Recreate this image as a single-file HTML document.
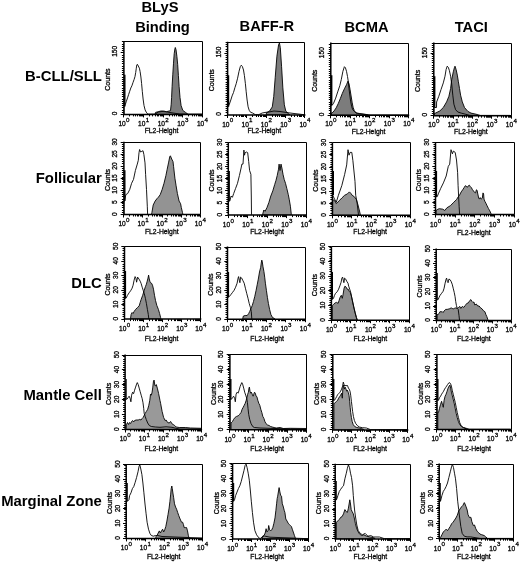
<!DOCTYPE html>
<html><head><meta charset="utf-8"><style>html,body{margin:0;padding:0;background:#fff;}svg{display:block;filter:blur(0.3px);}</style></head><body>
<svg width="520" height="564" viewBox="0 0 520 564">
<rect width="520" height="564" fill="#fff"/>
<text x="160" y="11.9" font-family="'Liberation Sans', Arial, Helvetica, sans-serif" font-weight="bold" font-size="14.7" fill="#000" text-anchor="middle">BLyS</text>
<text x="162.5" y="31.5" font-family="'Liberation Sans', Arial, Helvetica, sans-serif" font-weight="bold" font-size="14.7" fill="#000" text-anchor="middle">Binding</text>
<text x="266.9" y="31.1" font-family="'Liberation Sans', Arial, Helvetica, sans-serif" font-weight="bold" font-size="14.7" fill="#000" text-anchor="middle">BAFF-R</text>
<text x="366.5" y="31.7" font-family="'Liberation Sans', Arial, Helvetica, sans-serif" font-weight="bold" font-size="14.7" fill="#000" text-anchor="middle">BCMA</text>
<text x="471.3" y="31.7" font-family="'Liberation Sans', Arial, Helvetica, sans-serif" font-weight="bold" font-size="14.7" fill="#000" text-anchor="middle">TACI</text>
<text x="101.8" y="81.1" font-family="'Liberation Sans', Arial, Helvetica, sans-serif" font-weight="bold" font-size="14.85" fill="#000" text-anchor="end">B-CLL/SLL</text>
<text x="101.8" y="183.4" font-family="'Liberation Sans', Arial, Helvetica, sans-serif" font-weight="bold" font-size="14.85" fill="#000" text-anchor="end">Follicular</text>
<text x="101.8" y="288.3" font-family="'Liberation Sans', Arial, Helvetica, sans-serif" font-weight="bold" font-size="14.85" fill="#000" text-anchor="end">DLC</text>
<text x="101.8" y="400.3" font-family="'Liberation Sans', Arial, Helvetica, sans-serif" font-weight="bold" font-size="14.85" fill="#000" text-anchor="end">Mantle Cell</text>
<text x="101.8" y="505.7" font-family="'Liberation Sans', Arial, Helvetica, sans-serif" font-weight="bold" font-size="14.85" fill="#000" text-anchor="end">Marginal Zone</text>
<clipPath id="c00"><rect x="123.9" y="41.6" width="78.5" height="72.8"/></clipPath>
<g clip-path="url(#c00)">
<path d="M155 114.4 L155 114.4 L155.5 112.4 L158.2 111.7 L160.9 111 L163.7 111 L166.4 111.7 L169.1 111 L170.5 110.6 L171.2 104.2 L171.6 97.4 L172.1 86.4 L172.8 74.2 L173.5 63.2 L174.2 53.7 L174.9 48.9 L175.3 47.5 L176 49.6 L176.9 56.4 L177.7 64.6 L178.4 75.5 L179.1 86.4 L180 97.4 L181.1 105.6 L182.8 110.4 L185.5 112.4 L187 113.5 L188 114.4 L188 114.4 Z" fill="#7c7c7c" stroke="#000" stroke-width="0.9" stroke-linejoin="round"/>
<path d="M123.9 114.4 L123.9 106.6 L124.2 106.6 L124.2 106.6 L125.3 104.5 L126.4 101.2 L127.5 97.9 L128.6 94.6 L129.7 91.3 L130.8 88 L131.9 85.8 L133 82.5 L134.1 79.5 L135 76.5 L135.7 72.5 L136.3 68.2 L136.8 64.9 L137.4 64.3 L138.3 66 L139.4 68.2 L140.1 71.5 L140.9 77 L141.6 83.6 L142.3 91.3 L143.1 99 L144 105.5 L145.1 109.9 L146.2 112.1 L147.8 114.1 L150.6 114.1 L155 114.1 L158.3 112.1 L162 111.6 L166 111.8 L170 112.5 L180 114.1 L202 114.1" fill="none" stroke="#000" stroke-width="0.9" stroke-linejoin="round"/>
<path d="M124.8 74.8 V106.6" stroke="#000" stroke-width="1.4"/>
</g>
<path d="M123.9 41.5 H202.5 V114.4" fill="none" stroke="#000" stroke-width="1.0"/>
<path d="M123.9 41.1 V114.4 H202.9" fill="none" stroke="#000" stroke-width="1.5"/>
<path d="M123.5 114.4 V117.4 M129.5 114.4 V116.4 M133.5 114.4 V116.4 M135.5 114.4 V116.4 M137.5 114.4 V116.4 M139.5 114.4 V116.4 M140.5 114.4 V116.4 M141.5 114.4 V116.4 M142.5 114.4 V116.4 M143.5 114.4 V117.4 M149.5 114.4 V116.4 M152.5 114.4 V116.4 M155.5 114.4 V116.4 M157.5 114.4 V116.4 M158.5 114.4 V116.4 M160.5 114.4 V116.4 M161.5 114.4 V116.4 M162.5 114.4 V116.4 M163.5 114.4 V117.4 M169.5 114.4 V116.4 M172.5 114.4 V116.4 M174.5 114.4 V116.4 M176.5 114.4 V116.4 M178.5 114.4 V116.4 M179.5 114.4 V116.4 M180.5 114.4 V116.4 M181.5 114.4 V116.4 M182.5 114.4 V117.4 M188.5 114.4 V116.4 M192.5 114.4 V116.4 M194.5 114.4 V116.4 M196.5 114.4 V116.4 M198.5 114.4 V116.4 M199.5 114.4 V116.4 M200.5 114.4 V116.4 M201.5 114.4 V116.4 M202.5 114.4 V117.4 M123.9 114.5 H121.9 M123.9 112.5 H121.9 M123.9 110.5 H121.9 M123.9 107.5 H121.9 M123.9 105.5 H121.9 M123.9 103.5 H121.9 M123.9 101.5 H121.9 M123.9 99.5 H121.9 M123.9 96.5 H121.9 M123.9 94.5 H121.9 M123.9 92.5 H121.9 M123.9 90.5 H121.9 M123.9 88.5 H121.9 M123.9 85.5 H121.9 M123.9 83.5 H121.9 M123.9 81.5 H121.9 M123.9 79.5 H121.9 M123.9 77.5 H121.9 M123.9 74.5 H121.9 M123.9 72.5 H121.9 M123.9 70.5 H121.9 M123.9 68.5 H121.9 M123.9 66.5 H121.9 M123.9 63.5 H121.9 M123.9 61.5 H121.9 M123.9 59.5 H121.9 M123.9 57.5 H121.9 M123.9 55.5 H121.9 M123.9 52.5 H121.9 M123.9 50.5 H121.9 M123.9 48.5 H121.9 M123.9 46.5 H121.9 M123.9 44.5 H121.9 M123.9 41.5 H121.9 M123.9 114.5 H120.7 M123.9 52.5 H120.7" stroke="#000" stroke-width="1" fill="none"/>
<text transform="translate(117.3 113.4) rotate(-90) scale(1 1.15)" font-size="6.6" text-anchor="middle" font-family="'Liberation Sans', Arial, Helvetica, sans-serif" fill="#000" stroke="#000" stroke-width="0.28">0</text>
<text transform="translate(117.3 51.35) rotate(-90) scale(1 1.15)" font-size="6.6" text-anchor="middle" font-family="'Liberation Sans', Arial, Helvetica, sans-serif" fill="#000" stroke="#000" stroke-width="0.28">150</text>
<text transform="translate(109.8 79.6) rotate(-90)" font-size="7.0" text-anchor="middle" font-family="'Liberation Sans', Arial, Helvetica, sans-serif" fill="#000" stroke="#000" stroke-width="0.28">Counts</text>
<text x="125.8" y="126.4" font-size="6.6" text-anchor="end" font-family="'Liberation Sans', Arial, Helvetica, sans-serif" fill="#000" stroke="#000" stroke-width="0.28">10</text>
<text x="126.1" y="122.3" font-size="6.2" font-family="'Liberation Sans', Arial, Helvetica, sans-serif" fill="#000" stroke="#000" stroke-width="0.28">0</text>
<text x="145.43" y="126.4" font-size="6.6" text-anchor="end" font-family="'Liberation Sans', Arial, Helvetica, sans-serif" fill="#000" stroke="#000" stroke-width="0.28">10</text>
<text x="145.72" y="122.3" font-size="6.2" font-family="'Liberation Sans', Arial, Helvetica, sans-serif" fill="#000" stroke="#000" stroke-width="0.28">1</text>
<text x="165.05" y="126.4" font-size="6.6" text-anchor="end" font-family="'Liberation Sans', Arial, Helvetica, sans-serif" fill="#000" stroke="#000" stroke-width="0.28">10</text>
<text x="165.35" y="122.3" font-size="6.2" font-family="'Liberation Sans', Arial, Helvetica, sans-serif" fill="#000" stroke="#000" stroke-width="0.28">2</text>
<text x="184.68" y="126.4" font-size="6.6" text-anchor="end" font-family="'Liberation Sans', Arial, Helvetica, sans-serif" fill="#000" stroke="#000" stroke-width="0.28">10</text>
<text x="184.97" y="122.3" font-size="6.2" font-family="'Liberation Sans', Arial, Helvetica, sans-serif" fill="#000" stroke="#000" stroke-width="0.28">3</text>
<text x="204.3" y="126.4" font-size="6.6" text-anchor="end" font-family="'Liberation Sans', Arial, Helvetica, sans-serif" fill="#000" stroke="#000" stroke-width="0.28">10</text>
<text x="204.6" y="122.3" font-size="6.2" font-family="'Liberation Sans', Arial, Helvetica, sans-serif" fill="#000" stroke="#000" stroke-width="0.28">4</text>
<text x="161.5" y="133" font-size="6.8" text-anchor="middle" font-family="'Liberation Sans', Arial, Helvetica, sans-serif" fill="#000" stroke="#000" stroke-width="0.28">FL2-Height</text>
<clipPath id="c01"><rect x="227.6" y="42.3" width="77.3" height="72.7"/></clipPath>
<g clip-path="url(#c01)">
<path d="M266.35 115 L266.35 114.33 L266.35 112.85 L269.52 111.15 L272.27 106.92 L273.75 96.35 L275.23 77.31 L276.92 56.15 L278.62 44.52 L279.46 43.04 L280.31 47.69 L281.58 66.73 L282.85 87.88 L284.33 104.81 L285.81 111.15 L288.56 113.69 L289.62 114.33 L289.62 115 Z" fill="#7c7c7c" stroke="#000" stroke-width="0.9" stroke-linejoin="round"/>
<path d="M227.6 115 L227.6 106.8 L228 106.8 L228 106.8 L229.4 104.1 L230.8 100 L232.1 95.9 L233.5 92.5 L234.9 87.7 L236.2 83.7 L237.6 78.2 L239 71.4 L240.3 66.6 L241.3 65.2 L242.4 66.6 L243.5 70 L244.4 75.5 L245.4 83.7 L246.2 91.8 L247.1 100 L248.1 106.8 L249.2 110.3 L250.6 112.3 L252.6 113 L255.3 114.7 L258.7 114.7 L262.2 113 L266 112.3 L270 111.8 L274 111 L280 111.5 L290 113 L304 114.7" fill="none" stroke="#000" stroke-width="0.9" stroke-linejoin="round"/>
<path d="M228.5 75.3 V106.8" stroke="#000" stroke-width="1.4"/>
</g>
<path d="M227.6 42.5 H304.5 V115" fill="none" stroke="#000" stroke-width="1.0"/>
<path d="M227.6 41.8 V115 H305.4" fill="none" stroke="#000" stroke-width="1.5"/>
<path d="M227.5 115 V118 M233.5 115 V117 M236.5 115 V117 M239.5 115 V117 M241.5 115 V117 M242.5 115 V117 M243.5 115 V117 M245.5 115 V117 M246.5 115 V117 M246.5 115 V118 M252.5 115 V117 M256.5 115 V117 M258.5 115 V117 M260.5 115 V117 M261.5 115 V117 M263.5 115 V117 M264.5 115 V117 M265.5 115 V117 M266.5 115 V118 M272.5 115 V117 M275.5 115 V117 M277.5 115 V117 M279.5 115 V117 M281.5 115 V117 M282.5 115 V117 M283.5 115 V117 M284.5 115 V117 M285.5 115 V118 M291.5 115 V117 M294.5 115 V117 M297.5 115 V117 M299.5 115 V117 M300.5 115 V117 M301.5 115 V117 M303.5 115 V117 M304.5 115 V117 M304.5 115 V118 M227.6 115.5 H225.6 M227.6 112.5 H225.6 M227.6 110.5 H225.6 M227.6 108.5 H225.6 M227.6 106.5 H225.6 M227.6 104.5 H225.6 M227.6 101.5 H225.6 M227.6 99.5 H225.6 M227.6 97.5 H225.6 M227.6 95.5 H225.6 M227.6 93.5 H225.6 M227.6 90.5 H225.6 M227.6 88.5 H225.6 M227.6 86.5 H225.6 M227.6 84.5 H225.6 M227.6 82.5 H225.6 M227.6 79.5 H225.6 M227.6 77.5 H225.6 M227.6 75.5 H225.6 M227.6 73.5 H225.6 M227.6 71.5 H225.6 M227.6 68.5 H225.6 M227.6 66.5 H225.6 M227.6 64.5 H225.6 M227.6 62.5 H225.6 M227.6 59.5 H225.6 M227.6 57.5 H225.6 M227.6 55.5 H225.6 M227.6 53.5 H225.6 M227.6 51.5 H225.6 M227.6 49.5 H225.6 M227.6 46.5 H225.6 M227.6 44.5 H225.6 M227.6 42.5 H225.6 M227.6 115.5 H224.4 M227.6 53.5 H224.4" stroke="#000" stroke-width="1" fill="none"/>
<text transform="translate(221 114) rotate(-90) scale(1 1.15)" font-size="6.6" text-anchor="middle" font-family="'Liberation Sans', Arial, Helvetica, sans-serif" fill="#000" stroke="#000" stroke-width="0.28">0</text>
<text transform="translate(221 52.04) rotate(-90) scale(1 1.15)" font-size="6.6" text-anchor="middle" font-family="'Liberation Sans', Arial, Helvetica, sans-serif" fill="#000" stroke="#000" stroke-width="0.28">150</text>
<text transform="translate(213.5 80.25) rotate(-90)" font-size="7.0" text-anchor="middle" font-family="'Liberation Sans', Arial, Helvetica, sans-serif" fill="#000" stroke="#000" stroke-width="0.28">Counts</text>
<text x="229.5" y="126.5" font-size="6.6" text-anchor="end" font-family="'Liberation Sans', Arial, Helvetica, sans-serif" fill="#000" stroke="#000" stroke-width="0.28">10</text>
<text x="229.8" y="122.4" font-size="6.2" font-family="'Liberation Sans', Arial, Helvetica, sans-serif" fill="#000" stroke="#000" stroke-width="0.28">0</text>
<text x="248.82" y="126.5" font-size="6.6" text-anchor="end" font-family="'Liberation Sans', Arial, Helvetica, sans-serif" fill="#000" stroke="#000" stroke-width="0.28">10</text>
<text x="249.12" y="122.4" font-size="6.2" font-family="'Liberation Sans', Arial, Helvetica, sans-serif" fill="#000" stroke="#000" stroke-width="0.28">1</text>
<text x="268.15" y="126.5" font-size="6.6" text-anchor="end" font-family="'Liberation Sans', Arial, Helvetica, sans-serif" fill="#000" stroke="#000" stroke-width="0.28">10</text>
<text x="268.45" y="122.4" font-size="6.2" font-family="'Liberation Sans', Arial, Helvetica, sans-serif" fill="#000" stroke="#000" stroke-width="0.28">2</text>
<text x="287.47" y="126.5" font-size="6.6" text-anchor="end" font-family="'Liberation Sans', Arial, Helvetica, sans-serif" fill="#000" stroke="#000" stroke-width="0.28">10</text>
<text x="287.77" y="122.4" font-size="6.2" font-family="'Liberation Sans', Arial, Helvetica, sans-serif" fill="#000" stroke="#000" stroke-width="0.28">3</text>
<text x="306.8" y="126.5" font-size="6.6" text-anchor="end" font-family="'Liberation Sans', Arial, Helvetica, sans-serif" fill="#000" stroke="#000" stroke-width="0.28">10</text>
<text x="307.1" y="122.4" font-size="6.2" font-family="'Liberation Sans', Arial, Helvetica, sans-serif" fill="#000" stroke="#000" stroke-width="0.28">4</text>
<text x="264.25" y="132.9" font-size="6.8" text-anchor="middle" font-family="'Liberation Sans', Arial, Helvetica, sans-serif" fill="#000" stroke="#000" stroke-width="0.28">FL2-Height</text>
<clipPath id="c02"><rect x="330.8" y="43" width="77.9" height="72.3"/></clipPath>
<g clip-path="url(#c02)">
<path d="M331.3 115.3 L331.3 115.3 L331.3 113.2 L332.1 113 L334.1 110.9 L336.2 107.8 L338.2 103.7 L340.3 98.6 L342.3 93.4 L344.4 88.8 L346.5 84.7 L348 81.1 L349 83.7 L350.1 89.8 L351.1 96 L352.1 102.2 L353.1 107.3 L354.2 110.4 L355.7 112.5 L357.8 113.5 L360.9 114 L366 114.6 L368 115.3 L368 115.3 Z" fill="#7c7c7c" stroke="#000" stroke-width="0.9" stroke-linejoin="round"/>
<path d="M330.8 115.3 L330.8 105.3 L331.3 105.3 L332.1 105.3 L333.6 103.2 L335.7 98.1 L337.7 91.9 L339.8 85.7 L341.3 79.5 L342.9 71.3 L344.4 66.7 L345.4 67.7 L346.5 71.3 L347.5 76.5 L348.3 81.6 L349 88.8 L349.8 95 L350.6 101.2 L351.6 106.3 L352.6 109.4 L354.2 111.4 L356.2 113 L359.8 113.5 L370 115 L408 115" fill="none" stroke="#000" stroke-width="0.9" stroke-linejoin="round"/>
<path d="M331.7 75.2 V105.3" stroke="#000" stroke-width="1.4"/>
</g>
<path d="M330.8 43.5 H408.5 V115.3" fill="none" stroke="#000" stroke-width="1.0"/>
<path d="M330.8 42.5 V115.3 H409.2" fill="none" stroke="#000" stroke-width="1.5"/>
<path d="M330.5 115.3 V118.3 M336.5 115.3 V117.3 M340.5 115.3 V117.3 M342.5 115.3 V117.3 M344.5 115.3 V117.3 M345.5 115.3 V117.3 M347.5 115.3 V117.3 M348.5 115.3 V117.3 M349.5 115.3 V117.3 M350.5 115.3 V118.3 M356.5 115.3 V117.3 M359.5 115.3 V117.3 M362.5 115.3 V117.3 M363.5 115.3 V117.3 M365.5 115.3 V117.3 M366.5 115.3 V117.3 M367.5 115.3 V117.3 M368.5 115.3 V117.3 M369.5 115.3 V118.3 M375.5 115.3 V117.3 M379.5 115.3 V117.3 M381.5 115.3 V117.3 M383.5 115.3 V117.3 M384.5 115.3 V117.3 M386.5 115.3 V117.3 M387.5 115.3 V117.3 M388.5 115.3 V117.3 M389.5 115.3 V118.3 M395.5 115.3 V117.3 M398.5 115.3 V117.3 M400.5 115.3 V117.3 M402.5 115.3 V117.3 M404.5 115.3 V117.3 M405.5 115.3 V117.3 M406.5 115.3 V117.3 M407.5 115.3 V117.3 M408.5 115.3 V118.3 M330.8 115.5 H328.8 M330.8 113.5 H328.8 M330.8 110.5 H328.8 M330.8 108.5 H328.8 M330.8 106.5 H328.8 M330.8 104.5 H328.8 M330.8 102.5 H328.8 M330.8 99.5 H328.8 M330.8 97.5 H328.8 M330.8 95.5 H328.8 M330.8 93.5 H328.8 M330.8 91.5 H328.8 M330.8 88.5 H328.8 M330.8 86.5 H328.8 M330.8 84.5 H328.8 M330.8 82.5 H328.8 M330.8 80.5 H328.8 M330.8 77.5 H328.8 M330.8 75.5 H328.8 M330.8 73.5 H328.8 M330.8 71.5 H328.8 M330.8 69.5 H328.8 M330.8 66.5 H328.8 M330.8 64.5 H328.8 M330.8 62.5 H328.8 M330.8 60.5 H328.8 M330.8 58.5 H328.8 M330.8 55.5 H328.8 M330.8 53.5 H328.8 M330.8 51.5 H328.8 M330.8 49.5 H328.8 M330.8 47.5 H328.8 M330.8 44.5 H328.8 M330.8 115.5 H327.6 M330.8 53.5 H327.6" stroke="#000" stroke-width="1" fill="none"/>
<text transform="translate(324.2 114.3) rotate(-90) scale(1 1.15)" font-size="6.6" text-anchor="middle" font-family="'Liberation Sans', Arial, Helvetica, sans-serif" fill="#000" stroke="#000" stroke-width="0.28">0</text>
<text transform="translate(324.2 52.68) rotate(-90) scale(1 1.15)" font-size="6.6" text-anchor="middle" font-family="'Liberation Sans', Arial, Helvetica, sans-serif" fill="#000" stroke="#000" stroke-width="0.28">150</text>
<text transform="translate(316.7 80.75) rotate(-90)" font-size="7.0" text-anchor="middle" font-family="'Liberation Sans', Arial, Helvetica, sans-serif" fill="#000" stroke="#000" stroke-width="0.28">Counts</text>
<text x="332.7" y="126.3" font-size="6.6" text-anchor="end" font-family="'Liberation Sans', Arial, Helvetica, sans-serif" fill="#000" stroke="#000" stroke-width="0.28">10</text>
<text x="333" y="122.2" font-size="6.2" font-family="'Liberation Sans', Arial, Helvetica, sans-serif" fill="#000" stroke="#000" stroke-width="0.28">0</text>
<text x="352.17" y="126.3" font-size="6.6" text-anchor="end" font-family="'Liberation Sans', Arial, Helvetica, sans-serif" fill="#000" stroke="#000" stroke-width="0.28">10</text>
<text x="352.47" y="122.2" font-size="6.2" font-family="'Liberation Sans', Arial, Helvetica, sans-serif" fill="#000" stroke="#000" stroke-width="0.28">1</text>
<text x="371.65" y="126.3" font-size="6.6" text-anchor="end" font-family="'Liberation Sans', Arial, Helvetica, sans-serif" fill="#000" stroke="#000" stroke-width="0.28">10</text>
<text x="371.95" y="122.2" font-size="6.2" font-family="'Liberation Sans', Arial, Helvetica, sans-serif" fill="#000" stroke="#000" stroke-width="0.28">2</text>
<text x="391.12" y="126.3" font-size="6.6" text-anchor="end" font-family="'Liberation Sans', Arial, Helvetica, sans-serif" fill="#000" stroke="#000" stroke-width="0.28">10</text>
<text x="391.43" y="122.2" font-size="6.2" font-family="'Liberation Sans', Arial, Helvetica, sans-serif" fill="#000" stroke="#000" stroke-width="0.28">3</text>
<text x="410.6" y="126.3" font-size="6.6" text-anchor="end" font-family="'Liberation Sans', Arial, Helvetica, sans-serif" fill="#000" stroke="#000" stroke-width="0.28">10</text>
<text x="410.9" y="122.2" font-size="6.2" font-family="'Liberation Sans', Arial, Helvetica, sans-serif" fill="#000" stroke="#000" stroke-width="0.28">4</text>
<text x="368.55" y="133.6" font-size="6.8" text-anchor="middle" font-family="'Liberation Sans', Arial, Helvetica, sans-serif" fill="#000" stroke="#000" stroke-width="0.28">FL2-Height</text>
<clipPath id="c03"><rect x="433.8" y="43" width="77.4" height="72.7"/></clipPath>
<g clip-path="url(#c03)">
<path d="M434.3 115.7 L434.3 115.4 L434.3 113.5 L435.5 113.1 L439.9 110.9 L443.3 107.5 L446.6 101.9 L448.9 96.3 L450.6 88.5 L451.7 79.6 L453.3 71.8 L454.5 67.3 L455 66.2 L456.1 69.5 L457.3 75.1 L458.4 81.8 L459.5 88.5 L460.6 95.2 L462.3 101.9 L464.5 107.5 L467.9 111.4 L471 113.1 L476 114.2 L480 115.4 L480 115.7 Z" fill="#7c7c7c" stroke="#000" stroke-width="0.9" stroke-linejoin="round"/>
<path d="M433.8 115.7 L433.8 107.5 L434.3 107.5 L436.5 107.5 L436.6 102 L438.8 96.3 L441 89.6 L443.3 82.9 L445 76.2 L446.1 69.5 L447.2 66.2 L448.3 67.3 L449.4 70.6 L450.6 76.2 L451.7 84 L452.8 95.2 L453.9 104.2 L455.6 109.7 L457.8 112 L461.2 113.1 L470 115.4 L510 115.4" fill="none" stroke="#000" stroke-width="0.9" stroke-linejoin="round"/>
<path d="M434.7 76.3 V107.5" stroke="#000" stroke-width="1.4"/>
</g>
<path d="M433.8 43.5 H511.5 V115.7" fill="none" stroke="#000" stroke-width="1.0"/>
<path d="M433.8 42.5 V115.7 H511.7" fill="none" stroke="#000" stroke-width="1.5"/>
<path d="M433.5 115.7 V118.7 M439.5 115.7 V117.7 M443.5 115.7 V117.7 M445.5 115.7 V117.7 M447.5 115.7 V117.7 M448.5 115.7 V117.7 M450.5 115.7 V117.7 M451.5 115.7 V117.7 M452.5 115.7 V117.7 M453.5 115.7 V118.7 M458.5 115.7 V117.7 M462.5 115.7 V117.7 M464.5 115.7 V117.7 M466.5 115.7 V117.7 M468.5 115.7 V117.7 M469.5 115.7 V117.7 M470.5 115.7 V117.7 M471.5 115.7 V117.7 M472.5 115.7 V118.7 M478.5 115.7 V117.7 M481.5 115.7 V117.7 M484.5 115.7 V117.7 M486.5 115.7 V117.7 M487.5 115.7 V117.7 M488.5 115.7 V117.7 M489.5 115.7 V117.7 M490.5 115.7 V117.7 M491.5 115.7 V118.7 M497.5 115.7 V117.7 M501.5 115.7 V117.7 M503.5 115.7 V117.7 M505.5 115.7 V117.7 M506.5 115.7 V117.7 M508.5 115.7 V117.7 M509.5 115.7 V117.7 M510.5 115.7 V117.7 M511.5 115.7 V118.7 M433.8 115.5 H431.8 M433.8 113.5 H431.8 M433.8 111.5 H431.8 M433.8 109.5 H431.8 M433.8 106.5 H431.8 M433.8 104.5 H431.8 M433.8 102.5 H431.8 M433.8 100.5 H431.8 M433.8 98.5 H431.8 M433.8 95.5 H431.8 M433.8 93.5 H431.8 M433.8 91.5 H431.8 M433.8 89.5 H431.8 M433.8 87.5 H431.8 M433.8 84.5 H431.8 M433.8 82.5 H431.8 M433.8 80.5 H431.8 M433.8 78.5 H431.8 M433.8 76.5 H431.8 M433.8 73.5 H431.8 M433.8 71.5 H431.8 M433.8 69.5 H431.8 M433.8 67.5 H431.8 M433.8 65.5 H431.8 M433.8 62.5 H431.8 M433.8 60.5 H431.8 M433.8 58.5 H431.8 M433.8 56.5 H431.8 M433.8 54.5 H431.8 M433.8 51.5 H431.8 M433.8 49.5 H431.8 M433.8 47.5 H431.8 M433.8 45.5 H431.8 M433.8 43.5 H431.8 M433.8 115.5 H430.6 M433.8 53.5 H430.6" stroke="#000" stroke-width="1" fill="none"/>
<text transform="translate(427.2 114.7) rotate(-90) scale(1 1.15)" font-size="6.6" text-anchor="middle" font-family="'Liberation Sans', Arial, Helvetica, sans-serif" fill="#000" stroke="#000" stroke-width="0.28">0</text>
<text transform="translate(427.2 52.74) rotate(-90) scale(1 1.15)" font-size="6.6" text-anchor="middle" font-family="'Liberation Sans', Arial, Helvetica, sans-serif" fill="#000" stroke="#000" stroke-width="0.28">150</text>
<text transform="translate(419.7 80.95) rotate(-90)" font-size="7.0" text-anchor="middle" font-family="'Liberation Sans', Arial, Helvetica, sans-serif" fill="#000" stroke="#000" stroke-width="0.28">Counts</text>
<text x="435.7" y="126.6" font-size="6.6" text-anchor="end" font-family="'Liberation Sans', Arial, Helvetica, sans-serif" fill="#000" stroke="#000" stroke-width="0.28">10</text>
<text x="436" y="122.5" font-size="6.2" font-family="'Liberation Sans', Arial, Helvetica, sans-serif" fill="#000" stroke="#000" stroke-width="0.28">0</text>
<text x="455.05" y="126.6" font-size="6.6" text-anchor="end" font-family="'Liberation Sans', Arial, Helvetica, sans-serif" fill="#000" stroke="#000" stroke-width="0.28">10</text>
<text x="455.35" y="122.5" font-size="6.2" font-family="'Liberation Sans', Arial, Helvetica, sans-serif" fill="#000" stroke="#000" stroke-width="0.28">1</text>
<text x="474.4" y="126.6" font-size="6.6" text-anchor="end" font-family="'Liberation Sans', Arial, Helvetica, sans-serif" fill="#000" stroke="#000" stroke-width="0.28">10</text>
<text x="474.7" y="122.5" font-size="6.2" font-family="'Liberation Sans', Arial, Helvetica, sans-serif" fill="#000" stroke="#000" stroke-width="0.28">2</text>
<text x="493.75" y="126.6" font-size="6.6" text-anchor="end" font-family="'Liberation Sans', Arial, Helvetica, sans-serif" fill="#000" stroke="#000" stroke-width="0.28">10</text>
<text x="494.05" y="122.5" font-size="6.2" font-family="'Liberation Sans', Arial, Helvetica, sans-serif" fill="#000" stroke="#000" stroke-width="0.28">3</text>
<text x="513.1" y="126.6" font-size="6.6" text-anchor="end" font-family="'Liberation Sans', Arial, Helvetica, sans-serif" fill="#000" stroke="#000" stroke-width="0.28">10</text>
<text x="513.4" y="122.5" font-size="6.2" font-family="'Liberation Sans', Arial, Helvetica, sans-serif" fill="#000" stroke="#000" stroke-width="0.28">4</text>
<text x="470.8" y="133.6" font-size="6.8" text-anchor="middle" font-family="'Liberation Sans', Arial, Helvetica, sans-serif" fill="#000" stroke="#000" stroke-width="0.28">FL2-Height</text>
<clipPath id="c10"><rect x="123.9" y="142.3" width="76.3" height="72.2"/></clipPath>
<g clip-path="url(#c10)">
<path d="M151.6 214.5 L151.6 214.2 L151.9 212.6 L153.2 205 L155.1 201.1 L157 198.6 L158.3 197.3 L160.2 194.7 L162.1 189.6 L164 183.3 L165.9 175.6 L167.2 169.2 L168.5 162.9 L169.8 156.5 L170.4 155.8 L171.7 159 L173 161.6 L173.6 166.7 L174.9 178.2 L176.1 185.8 L177.4 193.5 L179.1 201.1 L180.6 203.7 L181.3 207.5 L182.5 212.6 L182.8 214.2 L182.8 214.5 Z" fill="#939393" stroke="#000" stroke-width="0.9" stroke-linejoin="round"/>
<path d="M123.9 214.5 L123.9 201.1 L124.4 201.1 L124.6 201.1 L125.8 194.7 L127.7 193.5 L129.7 189.6 L131.6 183.3 L133.5 179.4 L135.4 170.5 L137.3 164.1 L138.3 160.3 L139 152.7 L139.6 149.5 L140.5 152 L141.8 151.4 L143 150.7 L143.9 154.6 L145 162.9 L145.6 174.3 L146.5 189.6 L147.3 206.2 L147.6 214.2" fill="none" stroke="#000" stroke-width="0.9" stroke-linejoin="round"/>
<path d="M124.8 170.3 V201.1" stroke="#000" stroke-width="1.4"/>
</g>
<path d="M123.9 142.5 H200.5 V214.5" fill="none" stroke="#000" stroke-width="1.0"/>
<path d="M123.9 141.8 V214.5 H200.7" fill="none" stroke="#000" stroke-width="1.5"/>
<path d="M123.5 214.5 V217.5 M129.5 214.5 V216.5 M133.5 214.5 V216.5 M135.5 214.5 V216.5 M137.5 214.5 V216.5 M138.5 214.5 V216.5 M140.5 214.5 V216.5 M141.5 214.5 V216.5 M142.5 214.5 V216.5 M142.5 214.5 V217.5 M148.5 214.5 V216.5 M152.5 214.5 V216.5 M154.5 214.5 V216.5 M156.5 214.5 V216.5 M157.5 214.5 V216.5 M159.5 214.5 V216.5 M160.5 214.5 V216.5 M161.5 214.5 V216.5 M162.5 214.5 V217.5 M167.5 214.5 V216.5 M171.5 214.5 V216.5 M173.5 214.5 V216.5 M175.5 214.5 V216.5 M176.5 214.5 V216.5 M178.5 214.5 V216.5 M179.5 214.5 V216.5 M180.5 214.5 V216.5 M181.5 214.5 V217.5 M186.5 214.5 V216.5 M190.5 214.5 V216.5 M192.5 214.5 V216.5 M194.5 214.5 V216.5 M195.5 214.5 V216.5 M197.5 214.5 V216.5 M198.5 214.5 V216.5 M199.5 214.5 V216.5 M200.5 214.5 V217.5 M123.9 214.5 H121.9 M123.9 212.5 H121.9 M123.9 210.5 H121.9 M123.9 207.5 H121.9 M123.9 205.5 H121.9 M123.9 203.5 H121.9 M123.9 201.5 H121.9 M123.9 199.5 H121.9 M123.9 196.5 H121.9 M123.9 194.5 H121.9 M123.9 192.5 H121.9 M123.9 190.5 H121.9 M123.9 188.5 H121.9 M123.9 185.5 H121.9 M123.9 183.5 H121.9 M123.9 181.5 H121.9 M123.9 179.5 H121.9 M123.9 177.5 H121.9 M123.9 174.5 H121.9 M123.9 172.5 H121.9 M123.9 170.5 H121.9 M123.9 168.5 H121.9 M123.9 166.5 H121.9 M123.9 163.5 H121.9 M123.9 161.5 H121.9 M123.9 159.5 H121.9 M123.9 157.5 H121.9 M123.9 155.5 H121.9 M123.9 152.5 H121.9 M123.9 150.5 H121.9 M123.9 148.5 H121.9 M123.9 146.5 H121.9 M123.9 144.5 H121.9 M123.9 214.5 H120.7 M123.9 202.5 H120.7 M123.9 190.5 H120.7 M123.9 178.5 H120.7 M123.9 166.5 H120.7 M123.9 154.5 H120.7 M123.9 142.5 H120.7" stroke="#000" stroke-width="1" fill="none"/>
<text transform="translate(117.3 214.1) rotate(-90) scale(1 1.15)" font-size="6.6" text-anchor="middle" font-family="'Liberation Sans', Arial, Helvetica, sans-serif" fill="#000" stroke="#000" stroke-width="0.28">0</text>
<text transform="translate(117.3 202.07) rotate(-90) scale(1 1.15)" font-size="6.6" text-anchor="middle" font-family="'Liberation Sans', Arial, Helvetica, sans-serif" fill="#000" stroke="#000" stroke-width="0.28">5</text>
<text transform="translate(117.3 190.03) rotate(-90) scale(1 1.15)" font-size="6.6" text-anchor="middle" font-family="'Liberation Sans', Arial, Helvetica, sans-serif" fill="#000" stroke="#000" stroke-width="0.28">10</text>
<text transform="translate(117.3 178) rotate(-90) scale(1 1.15)" font-size="6.6" text-anchor="middle" font-family="'Liberation Sans', Arial, Helvetica, sans-serif" fill="#000" stroke="#000" stroke-width="0.28">15</text>
<text transform="translate(117.3 165.97) rotate(-90) scale(1 1.15)" font-size="6.6" text-anchor="middle" font-family="'Liberation Sans', Arial, Helvetica, sans-serif" fill="#000" stroke="#000" stroke-width="0.28">20</text>
<text transform="translate(117.3 153.93) rotate(-90) scale(1 1.15)" font-size="6.6" text-anchor="middle" font-family="'Liberation Sans', Arial, Helvetica, sans-serif" fill="#000" stroke="#000" stroke-width="0.28">25</text>
<text transform="translate(117.3 141.9) rotate(-90) scale(1 1.15)" font-size="6.6" text-anchor="middle" font-family="'Liberation Sans', Arial, Helvetica, sans-serif" fill="#000" stroke="#000" stroke-width="0.28">30</text>
<text transform="translate(109.8 180) rotate(-90)" font-size="7.0" text-anchor="middle" font-family="'Liberation Sans', Arial, Helvetica, sans-serif" fill="#000" stroke="#000" stroke-width="0.28">Counts</text>
<text x="125.8" y="226.2" font-size="6.6" text-anchor="end" font-family="'Liberation Sans', Arial, Helvetica, sans-serif" fill="#000" stroke="#000" stroke-width="0.28">10</text>
<text x="126.1" y="222.1" font-size="6.2" font-family="'Liberation Sans', Arial, Helvetica, sans-serif" fill="#000" stroke="#000" stroke-width="0.28">0</text>
<text x="144.88" y="226.2" font-size="6.6" text-anchor="end" font-family="'Liberation Sans', Arial, Helvetica, sans-serif" fill="#000" stroke="#000" stroke-width="0.28">10</text>
<text x="145.17" y="222.1" font-size="6.2" font-family="'Liberation Sans', Arial, Helvetica, sans-serif" fill="#000" stroke="#000" stroke-width="0.28">1</text>
<text x="163.95" y="226.2" font-size="6.6" text-anchor="end" font-family="'Liberation Sans', Arial, Helvetica, sans-serif" fill="#000" stroke="#000" stroke-width="0.28">10</text>
<text x="164.25" y="222.1" font-size="6.2" font-family="'Liberation Sans', Arial, Helvetica, sans-serif" fill="#000" stroke="#000" stroke-width="0.28">2</text>
<text x="183.03" y="226.2" font-size="6.6" text-anchor="end" font-family="'Liberation Sans', Arial, Helvetica, sans-serif" fill="#000" stroke="#000" stroke-width="0.28">10</text>
<text x="183.32" y="222.1" font-size="6.2" font-family="'Liberation Sans', Arial, Helvetica, sans-serif" fill="#000" stroke="#000" stroke-width="0.28">3</text>
<text x="202.1" y="226.2" font-size="6.6" text-anchor="end" font-family="'Liberation Sans', Arial, Helvetica, sans-serif" fill="#000" stroke="#000" stroke-width="0.28">10</text>
<text x="202.4" y="222.1" font-size="6.2" font-family="'Liberation Sans', Arial, Helvetica, sans-serif" fill="#000" stroke="#000" stroke-width="0.28">4</text>
<text x="161.75" y="234.1" font-size="6.8" text-anchor="middle" font-family="'Liberation Sans', Arial, Helvetica, sans-serif" fill="#000" stroke="#000" stroke-width="0.28">FL2-Height</text>
<clipPath id="c11"><rect x="228.3" y="142.7" width="77.9" height="72.4"/></clipPath>
<g clip-path="url(#c11)">
<path d="M262.4 215.1 L262.4 215.4 L262.6 214.5 L263.8 210 L265.1 211.3 L267 207.5 L268.9 202.4 L270.8 196 L272.8 190.9 L274.7 184.5 L275.9 180.7 L277.2 175.6 L278.5 169.2 L279.1 164.1 L280 170.5 L281 164.1 L281.9 168 L283 174.3 L284.2 179.4 L285.5 183.3 L286.8 188.4 L288.3 194.7 L289.3 199.8 L290.4 206.2 L291.3 214.5 L291.4 215.4 L291.4 215.1 Z" fill="#939393" stroke="#000" stroke-width="0.9" stroke-linejoin="round"/>
<path d="M228.3 215.1 L228.3 201.1 L229 201.1 L229.8 201.1 L231.1 196 L232.4 197.3 L233.7 193.5 L235.6 188.4 L237.5 183.3 L239.4 175.6 L241.1 168 L241.9 164.1 L243 164.1 L243.9 150.1 L244.5 155.2 L245.1 152.7 L246.4 152 L247.7 152.7 L248.7 161.6 L249.6 170.5 L250.9 174.3 L251.3 196 L251.5 214.8" fill="none" stroke="#000" stroke-width="0.9" stroke-linejoin="round"/>
<path d="M229.2 171 V201.1" stroke="#000" stroke-width="1.4"/>
</g>
<path d="M228.3 142.5 H306.5 V215.1" fill="none" stroke="#000" stroke-width="1.0"/>
<path d="M228.3 142.2 V215.1 H306.7" fill="none" stroke="#000" stroke-width="1.5"/>
<path d="M228.5 215.1 V218.1 M234.5 215.1 V217.1 M237.5 215.1 V217.1 M240.5 215.1 V217.1 M241.5 215.1 V217.1 M243.5 215.1 V217.1 M244.5 215.1 V217.1 M245.5 215.1 V217.1 M246.5 215.1 V217.1 M247.5 215.1 V218.1 M253.5 215.1 V217.1 M257.5 215.1 V217.1 M259.5 215.1 V217.1 M261.5 215.1 V217.1 M262.5 215.1 V217.1 M264.5 215.1 V217.1 M265.5 215.1 V217.1 M266.5 215.1 V217.1 M267.5 215.1 V218.1 M273.5 215.1 V217.1 M276.5 215.1 V217.1 M278.5 215.1 V217.1 M280.5 215.1 V217.1 M282.5 215.1 V217.1 M283.5 215.1 V217.1 M284.5 215.1 V217.1 M285.5 215.1 V217.1 M286.5 215.1 V218.1 M292.5 215.1 V217.1 M296.5 215.1 V217.1 M298.5 215.1 V217.1 M300.5 215.1 V217.1 M301.5 215.1 V217.1 M303.5 215.1 V217.1 M304.5 215.1 V217.1 M305.5 215.1 V217.1 M306.5 215.1 V218.1 M228.3 215.5 H226.3 M228.3 212.5 H226.3 M228.3 210.5 H226.3 M228.3 208.5 H226.3 M228.3 206.5 H226.3 M228.3 204.5 H226.3 M228.3 201.5 H226.3 M228.3 199.5 H226.3 M228.3 197.5 H226.3 M228.3 195.5 H226.3 M228.3 193.5 H226.3 M228.3 190.5 H226.3 M228.3 188.5 H226.3 M228.3 186.5 H226.3 M228.3 184.5 H226.3 M228.3 182.5 H226.3 M228.3 179.5 H226.3 M228.3 177.5 H226.3 M228.3 175.5 H226.3 M228.3 173.5 H226.3 M228.3 171.5 H226.3 M228.3 168.5 H226.3 M228.3 166.5 H226.3 M228.3 164.5 H226.3 M228.3 162.5 H226.3 M228.3 160.5 H226.3 M228.3 157.5 H226.3 M228.3 155.5 H226.3 M228.3 153.5 H226.3 M228.3 151.5 H226.3 M228.3 149.5 H226.3 M228.3 146.5 H226.3 M228.3 144.5 H226.3 M228.3 215.5 H225.1 M228.3 203.5 H225.1 M228.3 190.5 H225.1 M228.3 178.5 H225.1 M228.3 166.5 H225.1 M228.3 154.5 H225.1 M228.3 142.5 H225.1" stroke="#000" stroke-width="1" fill="none"/>
<text transform="translate(221.7 214.7) rotate(-90) scale(1 1.15)" font-size="6.6" text-anchor="middle" font-family="'Liberation Sans', Arial, Helvetica, sans-serif" fill="#000" stroke="#000" stroke-width="0.28">0</text>
<text transform="translate(221.7 202.63) rotate(-90) scale(1 1.15)" font-size="6.6" text-anchor="middle" font-family="'Liberation Sans', Arial, Helvetica, sans-serif" fill="#000" stroke="#000" stroke-width="0.28">5</text>
<text transform="translate(221.7 190.57) rotate(-90) scale(1 1.15)" font-size="6.6" text-anchor="middle" font-family="'Liberation Sans', Arial, Helvetica, sans-serif" fill="#000" stroke="#000" stroke-width="0.28">10</text>
<text transform="translate(221.7 178.5) rotate(-90) scale(1 1.15)" font-size="6.6" text-anchor="middle" font-family="'Liberation Sans', Arial, Helvetica, sans-serif" fill="#000" stroke="#000" stroke-width="0.28">15</text>
<text transform="translate(221.7 166.43) rotate(-90) scale(1 1.15)" font-size="6.6" text-anchor="middle" font-family="'Liberation Sans', Arial, Helvetica, sans-serif" fill="#000" stroke="#000" stroke-width="0.28">20</text>
<text transform="translate(221.7 154.37) rotate(-90) scale(1 1.15)" font-size="6.6" text-anchor="middle" font-family="'Liberation Sans', Arial, Helvetica, sans-serif" fill="#000" stroke="#000" stroke-width="0.28">25</text>
<text transform="translate(221.7 142.3) rotate(-90) scale(1 1.15)" font-size="6.6" text-anchor="middle" font-family="'Liberation Sans', Arial, Helvetica, sans-serif" fill="#000" stroke="#000" stroke-width="0.28">30</text>
<text transform="translate(214.2 180.5) rotate(-90)" font-size="7.0" text-anchor="middle" font-family="'Liberation Sans', Arial, Helvetica, sans-serif" fill="#000" stroke="#000" stroke-width="0.28">Counts</text>
<text x="230.2" y="226.8" font-size="6.6" text-anchor="end" font-family="'Liberation Sans', Arial, Helvetica, sans-serif" fill="#000" stroke="#000" stroke-width="0.28">10</text>
<text x="230.5" y="222.7" font-size="6.2" font-family="'Liberation Sans', Arial, Helvetica, sans-serif" fill="#000" stroke="#000" stroke-width="0.28">0</text>
<text x="249.68" y="226.8" font-size="6.6" text-anchor="end" font-family="'Liberation Sans', Arial, Helvetica, sans-serif" fill="#000" stroke="#000" stroke-width="0.28">10</text>
<text x="249.97" y="222.7" font-size="6.2" font-family="'Liberation Sans', Arial, Helvetica, sans-serif" fill="#000" stroke="#000" stroke-width="0.28">1</text>
<text x="269.15" y="226.8" font-size="6.6" text-anchor="end" font-family="'Liberation Sans', Arial, Helvetica, sans-serif" fill="#000" stroke="#000" stroke-width="0.28">10</text>
<text x="269.45" y="222.7" font-size="6.2" font-family="'Liberation Sans', Arial, Helvetica, sans-serif" fill="#000" stroke="#000" stroke-width="0.28">2</text>
<text x="288.62" y="226.8" font-size="6.6" text-anchor="end" font-family="'Liberation Sans', Arial, Helvetica, sans-serif" fill="#000" stroke="#000" stroke-width="0.28">10</text>
<text x="288.93" y="222.7" font-size="6.2" font-family="'Liberation Sans', Arial, Helvetica, sans-serif" fill="#000" stroke="#000" stroke-width="0.28">3</text>
<text x="308.1" y="226.8" font-size="6.6" text-anchor="end" font-family="'Liberation Sans', Arial, Helvetica, sans-serif" fill="#000" stroke="#000" stroke-width="0.28">10</text>
<text x="308.4" y="222.7" font-size="6.2" font-family="'Liberation Sans', Arial, Helvetica, sans-serif" fill="#000" stroke="#000" stroke-width="0.28">4</text>
<text x="267" y="234.4" font-size="6.8" text-anchor="middle" font-family="'Liberation Sans', Arial, Helvetica, sans-serif" fill="#000" stroke="#000" stroke-width="0.28">FL2-Height</text>
<clipPath id="c12"><rect x="332.4" y="142.9" width="77.8" height="72.4"/></clipPath>
<g clip-path="url(#c12)">
<path d="M332.6 215.3 L332.6 199.5 L334.9 200.9 L336.3 203.6 L339 200.9 L341.8 198 L344.6 195.3 L347.4 193.9 L349.4 191.9 L350.8 193.3 L352.2 195.3 L354.3 196.7 L356.4 199.5 L358 205 L359.5 211 L360.5 215.4 L360.5 215.3 Z" fill="#939393" stroke="#000" stroke-width="0.9" stroke-linejoin="round"/>
<path d="M332.4 215.3 L332.4 195 L332.6 195 L334.5 199 L336.3 202.2 L338.4 195.3 L341.8 185.6 L344.6 174.6 L346.7 164.9 L348 149.7 L349 155.2 L350.1 152.4 L351.8 152.4 L352.9 160.7 L355 181.5 L355.7 195.3 L357 202.2 L357.8 209 L358.5 215" fill="none" stroke="#000" stroke-width="0.9" stroke-linejoin="round"/>
<path d="M333.3 171 V195" stroke="#000" stroke-width="1.4"/>
</g>
<path d="M332.4 142.5 H410.5 V215.3" fill="none" stroke="#000" stroke-width="1.0"/>
<path d="M332.4 142.4 V215.3 H410.7" fill="none" stroke="#000" stroke-width="1.5"/>
<path d="M332.5 215.3 V218.3 M338.5 215.3 V217.3 M341.5 215.3 V217.3 M344.5 215.3 V217.3 M345.5 215.3 V217.3 M347.5 215.3 V217.3 M348.5 215.3 V217.3 M349.5 215.3 V217.3 M350.5 215.3 V217.3 M351.5 215.3 V218.3 M357.5 215.3 V217.3 M361.5 215.3 V217.3 M363.5 215.3 V217.3 M365.5 215.3 V217.3 M366.5 215.3 V217.3 M368.5 215.3 V217.3 M369.5 215.3 V217.3 M370.5 215.3 V217.3 M371.5 215.3 V218.3 M377.5 215.3 V217.3 M380.5 215.3 V217.3 M383.5 215.3 V217.3 M384.5 215.3 V217.3 M386.5 215.3 V217.3 M387.5 215.3 V217.3 M388.5 215.3 V217.3 M389.5 215.3 V217.3 M390.5 215.3 V218.3 M396.5 215.3 V217.3 M400.5 215.3 V217.3 M402.5 215.3 V217.3 M404.5 215.3 V217.3 M405.5 215.3 V217.3 M407.5 215.3 V217.3 M408.5 215.3 V217.3 M409.5 215.3 V217.3 M410.5 215.3 V218.3 M332.4 215.5 H330.4 M332.4 213.5 H330.4 M332.4 210.5 H330.4 M332.4 208.5 H330.4 M332.4 206.5 H330.4 M332.4 204.5 H330.4 M332.4 202.5 H330.4 M332.4 199.5 H330.4 M332.4 197.5 H330.4 M332.4 195.5 H330.4 M332.4 193.5 H330.4 M332.4 191.5 H330.4 M332.4 188.5 H330.4 M332.4 186.5 H330.4 M332.4 184.5 H330.4 M332.4 182.5 H330.4 M332.4 180.5 H330.4 M332.4 177.5 H330.4 M332.4 175.5 H330.4 M332.4 173.5 H330.4 M332.4 171.5 H330.4 M332.4 169.5 H330.4 M332.4 166.5 H330.4 M332.4 164.5 H330.4 M332.4 162.5 H330.4 M332.4 160.5 H330.4 M332.4 158.5 H330.4 M332.4 155.5 H330.4 M332.4 153.5 H330.4 M332.4 151.5 H330.4 M332.4 149.5 H330.4 M332.4 147.5 H330.4 M332.4 144.5 H330.4 M332.4 215.5 H329.2 M332.4 203.5 H329.2 M332.4 191.5 H329.2 M332.4 179.5 H329.2 M332.4 167.5 H329.2 M332.4 154.5 H329.2 M332.4 142.5 H329.2" stroke="#000" stroke-width="1" fill="none"/>
<text transform="translate(325.8 214.9) rotate(-90) scale(1 1.15)" font-size="6.6" text-anchor="middle" font-family="'Liberation Sans', Arial, Helvetica, sans-serif" fill="#000" stroke="#000" stroke-width="0.28">0</text>
<text transform="translate(325.8 202.83) rotate(-90) scale(1 1.15)" font-size="6.6" text-anchor="middle" font-family="'Liberation Sans', Arial, Helvetica, sans-serif" fill="#000" stroke="#000" stroke-width="0.28">5</text>
<text transform="translate(325.8 190.77) rotate(-90) scale(1 1.15)" font-size="6.6" text-anchor="middle" font-family="'Liberation Sans', Arial, Helvetica, sans-serif" fill="#000" stroke="#000" stroke-width="0.28">10</text>
<text transform="translate(325.8 178.7) rotate(-90) scale(1 1.15)" font-size="6.6" text-anchor="middle" font-family="'Liberation Sans', Arial, Helvetica, sans-serif" fill="#000" stroke="#000" stroke-width="0.28">15</text>
<text transform="translate(325.8 166.63) rotate(-90) scale(1 1.15)" font-size="6.6" text-anchor="middle" font-family="'Liberation Sans', Arial, Helvetica, sans-serif" fill="#000" stroke="#000" stroke-width="0.28">20</text>
<text transform="translate(325.8 154.57) rotate(-90) scale(1 1.15)" font-size="6.6" text-anchor="middle" font-family="'Liberation Sans', Arial, Helvetica, sans-serif" fill="#000" stroke="#000" stroke-width="0.28">25</text>
<text transform="translate(325.8 142.5) rotate(-90) scale(1 1.15)" font-size="6.6" text-anchor="middle" font-family="'Liberation Sans', Arial, Helvetica, sans-serif" fill="#000" stroke="#000" stroke-width="0.28">30</text>
<text transform="translate(318.3 180.7) rotate(-90)" font-size="7.0" text-anchor="middle" font-family="'Liberation Sans', Arial, Helvetica, sans-serif" fill="#000" stroke="#000" stroke-width="0.28">Counts</text>
<text x="334.3" y="227" font-size="6.6" text-anchor="end" font-family="'Liberation Sans', Arial, Helvetica, sans-serif" fill="#000" stroke="#000" stroke-width="0.28">10</text>
<text x="334.6" y="222.9" font-size="6.2" font-family="'Liberation Sans', Arial, Helvetica, sans-serif" fill="#000" stroke="#000" stroke-width="0.28">0</text>
<text x="353.75" y="227" font-size="6.6" text-anchor="end" font-family="'Liberation Sans', Arial, Helvetica, sans-serif" fill="#000" stroke="#000" stroke-width="0.28">10</text>
<text x="354.05" y="222.9" font-size="6.2" font-family="'Liberation Sans', Arial, Helvetica, sans-serif" fill="#000" stroke="#000" stroke-width="0.28">1</text>
<text x="373.2" y="227" font-size="6.6" text-anchor="end" font-family="'Liberation Sans', Arial, Helvetica, sans-serif" fill="#000" stroke="#000" stroke-width="0.28">10</text>
<text x="373.5" y="222.9" font-size="6.2" font-family="'Liberation Sans', Arial, Helvetica, sans-serif" fill="#000" stroke="#000" stroke-width="0.28">2</text>
<text x="392.65" y="227" font-size="6.6" text-anchor="end" font-family="'Liberation Sans', Arial, Helvetica, sans-serif" fill="#000" stroke="#000" stroke-width="0.28">10</text>
<text x="392.95" y="222.9" font-size="6.2" font-family="'Liberation Sans', Arial, Helvetica, sans-serif" fill="#000" stroke="#000" stroke-width="0.28">3</text>
<text x="412.1" y="227" font-size="6.6" text-anchor="end" font-family="'Liberation Sans', Arial, Helvetica, sans-serif" fill="#000" stroke="#000" stroke-width="0.28">10</text>
<text x="412.4" y="222.9" font-size="6.2" font-family="'Liberation Sans', Arial, Helvetica, sans-serif" fill="#000" stroke="#000" stroke-width="0.28">4</text>
<text x="370.05" y="234.1" font-size="6.8" text-anchor="middle" font-family="'Liberation Sans', Arial, Helvetica, sans-serif" fill="#000" stroke="#000" stroke-width="0.28">FL2-Height</text>
<clipPath id="c13"><rect x="435.5" y="142.6" width="78.6" height="71.9"/></clipPath>
<g clip-path="url(#c13)">
<path d="M436 214.5 L436 214.5 L436 210.5 L437.9 209.2 L439.3 208.7 L442.8 209.2 L444.8 210.5 L446.9 207.8 L450.4 205.7 L453.8 202.2 L456.6 199.5 L458.1 197 L459.6 195 L461.2 191.9 L462.7 189.8 L464.3 187.3 L465.3 185.7 L466.3 186.2 L467.3 187.3 L468.4 185.7 L469.4 185.2 L470.4 186.7 L471.5 187.8 L472.5 189.8 L473.5 190.9 L474.5 192.4 L475.6 192.9 L476.4 189.8 L477.1 190.3 L477.8 194 L478.7 198.1 L479.5 199.1 L480.2 197.6 L481.2 199.1 L482.3 198.1 L483 192.9 L483.6 194 L484 199.1 L484.8 201.2 L485.9 203.2 L487.1 205.8 L488.4 208.4 L489.8 210.9 L491 213.5 L491.4 214.5 L491.4 214.5 Z" fill="#939393" stroke="#000" stroke-width="0.9" stroke-linejoin="round"/>
<path d="M435.5 214.5 L435.5 196.7 L436 196.7 L437.2 196.7 L438.6 193.2 L440.7 188.4 L443.4 182.9 L446.2 176 L448.3 166.3 L449.7 164.2 L451 149.7 L452.4 153.8 L453.4 151.1 L455.2 152.4 L456.5 160 L457.6 172.3 L458.1 185.7 L458.6 196 L459.1 206.3 L459.6 214.2 L459.7 214.2" fill="none" stroke="#000" stroke-width="0.9" stroke-linejoin="round"/>
<path d="M436.4 171.1 V196.7" stroke="#000" stroke-width="1.4"/>
</g>
<path d="M435.5 142.5 H514.5 V214.5" fill="none" stroke="#000" stroke-width="1.0"/>
<path d="M435.5 142.1 V214.5 H514.6" fill="none" stroke="#000" stroke-width="1.5"/>
<path d="M435.5 214.5 V217.5 M441.5 214.5 V216.5 M444.5 214.5 V216.5 M447.5 214.5 V216.5 M449.5 214.5 V216.5 M450.5 214.5 V216.5 M452.5 214.5 V216.5 M453.5 214.5 V216.5 M454.5 214.5 V216.5 M455.5 214.5 V217.5 M461.5 214.5 V216.5 M464.5 214.5 V216.5 M466.5 214.5 V216.5 M468.5 214.5 V216.5 M470.5 214.5 V216.5 M471.5 214.5 V216.5 M472.5 214.5 V216.5 M473.5 214.5 V216.5 M474.5 214.5 V217.5 M480.5 214.5 V216.5 M484.5 214.5 V216.5 M486.5 214.5 V216.5 M488.5 214.5 V216.5 M490.5 214.5 V216.5 M491.5 214.5 V216.5 M492.5 214.5 V216.5 M493.5 214.5 V216.5 M494.5 214.5 V217.5 M500.5 214.5 V216.5 M503.5 214.5 V216.5 M506.5 214.5 V216.5 M508.5 214.5 V216.5 M509.5 214.5 V216.5 M511.5 214.5 V216.5 M512.5 214.5 V216.5 M513.5 214.5 V216.5 M514.5 214.5 V217.5 M435.5 214.5 H433.5 M435.5 212.5 H433.5 M435.5 210.5 H433.5 M435.5 207.5 H433.5 M435.5 205.5 H433.5 M435.5 203.5 H433.5 M435.5 201.5 H433.5 M435.5 199.5 H433.5 M435.5 196.5 H433.5 M435.5 194.5 H433.5 M435.5 192.5 H433.5 M435.5 190.5 H433.5 M435.5 188.5 H433.5 M435.5 185.5 H433.5 M435.5 183.5 H433.5 M435.5 181.5 H433.5 M435.5 179.5 H433.5 M435.5 177.5 H433.5 M435.5 174.5 H433.5 M435.5 172.5 H433.5 M435.5 170.5 H433.5 M435.5 168.5 H433.5 M435.5 166.5 H433.5 M435.5 163.5 H433.5 M435.5 161.5 H433.5 M435.5 159.5 H433.5 M435.5 157.5 H433.5 M435.5 155.5 H433.5 M435.5 152.5 H433.5 M435.5 150.5 H433.5 M435.5 148.5 H433.5 M435.5 146.5 H433.5 M435.5 144.5 H433.5 M435.5 214.5 H432.3 M435.5 202.5 H432.3 M435.5 190.5 H432.3 M435.5 178.5 H432.3 M435.5 166.5 H432.3 M435.5 154.5 H432.3 M435.5 142.5 H432.3" stroke="#000" stroke-width="1" fill="none"/>
<text transform="translate(428.9 214.1) rotate(-90) scale(1 1.15)" font-size="6.6" text-anchor="middle" font-family="'Liberation Sans', Arial, Helvetica, sans-serif" fill="#000" stroke="#000" stroke-width="0.28">0</text>
<text transform="translate(428.9 202.12) rotate(-90) scale(1 1.15)" font-size="6.6" text-anchor="middle" font-family="'Liberation Sans', Arial, Helvetica, sans-serif" fill="#000" stroke="#000" stroke-width="0.28">5</text>
<text transform="translate(428.9 190.13) rotate(-90) scale(1 1.15)" font-size="6.6" text-anchor="middle" font-family="'Liberation Sans', Arial, Helvetica, sans-serif" fill="#000" stroke="#000" stroke-width="0.28">10</text>
<text transform="translate(428.9 178.15) rotate(-90) scale(1 1.15)" font-size="6.6" text-anchor="middle" font-family="'Liberation Sans', Arial, Helvetica, sans-serif" fill="#000" stroke="#000" stroke-width="0.28">15</text>
<text transform="translate(428.9 166.17) rotate(-90) scale(1 1.15)" font-size="6.6" text-anchor="middle" font-family="'Liberation Sans', Arial, Helvetica, sans-serif" fill="#000" stroke="#000" stroke-width="0.28">20</text>
<text transform="translate(428.9 154.18) rotate(-90) scale(1 1.15)" font-size="6.6" text-anchor="middle" font-family="'Liberation Sans', Arial, Helvetica, sans-serif" fill="#000" stroke="#000" stroke-width="0.28">25</text>
<text transform="translate(428.9 142.2) rotate(-90) scale(1 1.15)" font-size="6.6" text-anchor="middle" font-family="'Liberation Sans', Arial, Helvetica, sans-serif" fill="#000" stroke="#000" stroke-width="0.28">30</text>
<text transform="translate(421.4 180.15) rotate(-90)" font-size="7.0" text-anchor="middle" font-family="'Liberation Sans', Arial, Helvetica, sans-serif" fill="#000" stroke="#000" stroke-width="0.28">Counts</text>
<text x="437.4" y="226.8" font-size="6.6" text-anchor="end" font-family="'Liberation Sans', Arial, Helvetica, sans-serif" fill="#000" stroke="#000" stroke-width="0.28">10</text>
<text x="437.7" y="222.7" font-size="6.2" font-family="'Liberation Sans', Arial, Helvetica, sans-serif" fill="#000" stroke="#000" stroke-width="0.28">0</text>
<text x="457.05" y="226.8" font-size="6.6" text-anchor="end" font-family="'Liberation Sans', Arial, Helvetica, sans-serif" fill="#000" stroke="#000" stroke-width="0.28">10</text>
<text x="457.35" y="222.7" font-size="6.2" font-family="'Liberation Sans', Arial, Helvetica, sans-serif" fill="#000" stroke="#000" stroke-width="0.28">1</text>
<text x="476.7" y="226.8" font-size="6.6" text-anchor="end" font-family="'Liberation Sans', Arial, Helvetica, sans-serif" fill="#000" stroke="#000" stroke-width="0.28">10</text>
<text x="477" y="222.7" font-size="6.2" font-family="'Liberation Sans', Arial, Helvetica, sans-serif" fill="#000" stroke="#000" stroke-width="0.28">2</text>
<text x="496.35" y="226.8" font-size="6.6" text-anchor="end" font-family="'Liberation Sans', Arial, Helvetica, sans-serif" fill="#000" stroke="#000" stroke-width="0.28">10</text>
<text x="496.65" y="222.7" font-size="6.2" font-family="'Liberation Sans', Arial, Helvetica, sans-serif" fill="#000" stroke="#000" stroke-width="0.28">3</text>
<text x="516" y="226.8" font-size="6.6" text-anchor="end" font-family="'Liberation Sans', Arial, Helvetica, sans-serif" fill="#000" stroke="#000" stroke-width="0.28">10</text>
<text x="516.3" y="222.7" font-size="6.2" font-family="'Liberation Sans', Arial, Helvetica, sans-serif" fill="#000" stroke="#000" stroke-width="0.28">4</text>
<text x="473.75" y="235.1" font-size="6.8" text-anchor="middle" font-family="'Liberation Sans', Arial, Helvetica, sans-serif" fill="#000" stroke="#000" stroke-width="0.28">FL2-Height</text>
<clipPath id="c20"><rect x="124.5" y="246.7" width="76.3" height="72.4"/></clipPath>
<g clip-path="url(#c20)">
<path d="M130.5 319.1 L130.5 318.8 L130.6 318 L131.1 314.5 L132.1 312.5 L133.1 313.5 L134.1 311.5 L135.6 309.4 L137.6 307.4 L139.2 305.9 L140.2 302.4 L141.2 299.3 L142.7 295.3 L144.2 290.3 L145.4 286.7 L146.4 284.2 L147.2 281.2 L148 278.1 L148.6 275.1 L149.1 278.1 L149.8 281.2 L150.5 282.7 L151.5 283.2 L152.5 285.2 L153.5 289.2 L154.5 295.3 L155.5 300.4 L156.8 305.4 L158.4 309.4 L159.6 313.5 L160.6 317.5 L160.8 318.8 L160.8 319.1 Z" fill="#8e8e8e" stroke="#000" stroke-width="0.9" stroke-linejoin="round"/>
<path d="M124.5 319.1 L124.5 298.3 L125.5 298.3 L126 298.3 L127.5 295.3 L129.1 292.8 L130.6 290.8 L132.1 288.2 L133.1 285.2 L134.1 280.2 L135.1 276.6 L135.9 278.1 L136.6 282.2 L137.6 277.1 L139 279.1 L140.2 281.2 L141.2 283.7 L142.2 287.2 L143.2 290.3 L144.2 293.3 L145.4 298.3 L146.4 303.4 L147.4 309.4 L148.3 314.5 L148.8 318.8 L149 318.8" fill="none" stroke="#000" stroke-width="0.9" stroke-linejoin="round"/>
<path d="M125.4 271 V298.3" stroke="#000" stroke-width="1.4"/>
</g>
<path d="M124.5 246.5 H200.5 V319.1" fill="none" stroke="#000" stroke-width="1.0"/>
<path d="M124.5 246.2 V319.1 H201.3" fill="none" stroke="#000" stroke-width="1.5"/>
<path d="M124.5 319.1 V322.1 M130.5 319.1 V321.1 M133.5 319.1 V321.1 M135.5 319.1 V321.1 M137.5 319.1 V321.1 M139.5 319.1 V321.1 M140.5 319.1 V321.1 M141.5 319.1 V321.1 M142.5 319.1 V321.1 M143.5 319.1 V322.1 M149.5 319.1 V321.1 M152.5 319.1 V321.1 M155.5 319.1 V321.1 M156.5 319.1 V321.1 M158.5 319.1 V321.1 M159.5 319.1 V321.1 M160.5 319.1 V321.1 M161.5 319.1 V321.1 M162.5 319.1 V322.1 M168.5 319.1 V321.1 M171.5 319.1 V321.1 M174.5 319.1 V321.1 M175.5 319.1 V321.1 M177.5 319.1 V321.1 M178.5 319.1 V321.1 M179.5 319.1 V321.1 M180.5 319.1 V321.1 M181.5 319.1 V322.1 M187.5 319.1 V321.1 M190.5 319.1 V321.1 M193.5 319.1 V321.1 M195.5 319.1 V321.1 M196.5 319.1 V321.1 M197.5 319.1 V321.1 M198.5 319.1 V321.1 M199.5 319.1 V321.1 M200.5 319.1 V322.1 M124.5 319.5 H122.5 M124.5 316.5 H122.5 M124.5 314.5 H122.5 M124.5 312.5 H122.5 M124.5 310.5 H122.5 M124.5 308.5 H122.5 M124.5 305.5 H122.5 M124.5 303.5 H122.5 M124.5 301.5 H122.5 M124.5 299.5 H122.5 M124.5 297.5 H122.5 M124.5 294.5 H122.5 M124.5 292.5 H122.5 M124.5 290.5 H122.5 M124.5 288.5 H122.5 M124.5 286.5 H122.5 M124.5 283.5 H122.5 M124.5 281.5 H122.5 M124.5 279.5 H122.5 M124.5 277.5 H122.5 M124.5 275.5 H122.5 M124.5 272.5 H122.5 M124.5 270.5 H122.5 M124.5 268.5 H122.5 M124.5 266.5 H122.5 M124.5 264.5 H122.5 M124.5 261.5 H122.5 M124.5 259.5 H122.5 M124.5 257.5 H122.5 M124.5 255.5 H122.5 M124.5 253.5 H122.5 M124.5 250.5 H122.5 M124.5 248.5 H122.5 M124.5 319.5 H121.3 M124.5 304.5 H121.3 M124.5 290.5 H121.3 M124.5 275.5 H121.3 M124.5 261.5 H121.3 M124.5 246.5 H121.3" stroke="#000" stroke-width="1" fill="none"/>
<text transform="translate(117.9 318.7) rotate(-90) scale(1 1.15)" font-size="6.6" text-anchor="middle" font-family="'Liberation Sans', Arial, Helvetica, sans-serif" fill="#000" stroke="#000" stroke-width="0.28">0</text>
<text transform="translate(117.9 304.22) rotate(-90) scale(1 1.15)" font-size="6.6" text-anchor="middle" font-family="'Liberation Sans', Arial, Helvetica, sans-serif" fill="#000" stroke="#000" stroke-width="0.28">10</text>
<text transform="translate(117.9 289.74) rotate(-90) scale(1 1.15)" font-size="6.6" text-anchor="middle" font-family="'Liberation Sans', Arial, Helvetica, sans-serif" fill="#000" stroke="#000" stroke-width="0.28">20</text>
<text transform="translate(117.9 275.26) rotate(-90) scale(1 1.15)" font-size="6.6" text-anchor="middle" font-family="'Liberation Sans', Arial, Helvetica, sans-serif" fill="#000" stroke="#000" stroke-width="0.28">30</text>
<text transform="translate(117.9 260.78) rotate(-90) scale(1 1.15)" font-size="6.6" text-anchor="middle" font-family="'Liberation Sans', Arial, Helvetica, sans-serif" fill="#000" stroke="#000" stroke-width="0.28">40</text>
<text transform="translate(117.9 246.3) rotate(-90) scale(1 1.15)" font-size="6.6" text-anchor="middle" font-family="'Liberation Sans', Arial, Helvetica, sans-serif" fill="#000" stroke="#000" stroke-width="0.28">50</text>
<text transform="translate(110.4 284.5) rotate(-90)" font-size="7.0" text-anchor="middle" font-family="'Liberation Sans', Arial, Helvetica, sans-serif" fill="#000" stroke="#000" stroke-width="0.28">Counts</text>
<text x="126.4" y="330.8" font-size="6.6" text-anchor="end" font-family="'Liberation Sans', Arial, Helvetica, sans-serif" fill="#000" stroke="#000" stroke-width="0.28">10</text>
<text x="126.7" y="326.7" font-size="6.2" font-family="'Liberation Sans', Arial, Helvetica, sans-serif" fill="#000" stroke="#000" stroke-width="0.28">0</text>
<text x="145.47" y="330.8" font-size="6.6" text-anchor="end" font-family="'Liberation Sans', Arial, Helvetica, sans-serif" fill="#000" stroke="#000" stroke-width="0.28">10</text>
<text x="145.77" y="326.7" font-size="6.2" font-family="'Liberation Sans', Arial, Helvetica, sans-serif" fill="#000" stroke="#000" stroke-width="0.28">1</text>
<text x="164.55" y="330.8" font-size="6.6" text-anchor="end" font-family="'Liberation Sans', Arial, Helvetica, sans-serif" fill="#000" stroke="#000" stroke-width="0.28">10</text>
<text x="164.85" y="326.7" font-size="6.2" font-family="'Liberation Sans', Arial, Helvetica, sans-serif" fill="#000" stroke="#000" stroke-width="0.28">2</text>
<text x="183.63" y="330.8" font-size="6.6" text-anchor="end" font-family="'Liberation Sans', Arial, Helvetica, sans-serif" fill="#000" stroke="#000" stroke-width="0.28">10</text>
<text x="183.93" y="326.7" font-size="6.2" font-family="'Liberation Sans', Arial, Helvetica, sans-serif" fill="#000" stroke="#000" stroke-width="0.28">3</text>
<text x="202.7" y="330.8" font-size="6.6" text-anchor="end" font-family="'Liberation Sans', Arial, Helvetica, sans-serif" fill="#000" stroke="#000" stroke-width="0.28">10</text>
<text x="203" y="326.7" font-size="6.2" font-family="'Liberation Sans', Arial, Helvetica, sans-serif" fill="#000" stroke="#000" stroke-width="0.28">4</text>
<text x="161.55" y="340.8" font-size="6.8" text-anchor="middle" font-family="'Liberation Sans', Arial, Helvetica, sans-serif" fill="#000" stroke="#000" stroke-width="0.28">FL2-Height</text>
<clipPath id="c21"><rect x="227.5" y="247" width="77.8" height="72.2"/></clipPath>
<g clip-path="url(#c21)">
<path d="M242.6 319.2 L242.6 318.9 L242.7 318.5 L243.4 316 L245.2 315.5 L247.2 315.5 L248.7 313.5 L249.7 311.5 L251 308.4 L252.3 305.4 L253.5 301.4 L254.8 296.3 L256.1 290.3 L257.3 284.2 L258.3 279.1 L259.5 272 L260.7 267.3 L261.4 262 L261.8 260.1 L262.3 262 L263 266.8 L263.9 271.4 L264.7 277.2 L265.4 283.2 L266.4 290.3 L267.4 297.3 L268.4 303.4 L269.6 309.4 L270.9 314.5 L272.5 317.5 L274.5 318.5 L275 318.9 L275 319.2 Z" fill="#8e8e8e" stroke="#000" stroke-width="0.9" stroke-linejoin="round"/>
<path d="M227.5 319.2 L227.5 297.3 L228.3 297.3 L228.5 297.3 L229.5 296.3 L231.1 294.3 L232.6 292.3 L234.1 290.3 L235.6 287.2 L237.1 283.2 L238.1 278.1 L238.6 276.6 L239.3 280.2 L239.9 282.7 L240.6 277.1 L241.7 278.1 L242.7 280.2 L244.2 283.2 L245.4 288.2 L246.7 293.3 L248 298.3 L249.2 303.4 L250.4 307.4 L251.3 311.5 L251.8 318.9 L252 318.9" fill="none" stroke="#000" stroke-width="0.9" stroke-linejoin="round"/>
<path d="M228.4 272 V297.3" stroke="#000" stroke-width="1.4"/>
</g>
<path d="M227.5 247.5 H305.5 V319.2" fill="none" stroke="#000" stroke-width="1.0"/>
<path d="M227.5 246.5 V319.2 H305.8" fill="none" stroke="#000" stroke-width="1.5"/>
<path d="M227.5 319.2 V322.2 M233.5 319.2 V321.2 M236.5 319.2 V321.2 M239.5 319.2 V321.2 M241.5 319.2 V321.2 M242.5 319.2 V321.2 M243.5 319.2 V321.2 M245.5 319.2 V321.2 M246.5 319.2 V321.2 M246.5 319.2 V322.2 M252.5 319.2 V321.2 M256.5 319.2 V321.2 M258.5 319.2 V321.2 M260.5 319.2 V321.2 M262.5 319.2 V321.2 M263.5 319.2 V321.2 M264.5 319.2 V321.2 M265.5 319.2 V321.2 M266.5 319.2 V322.2 M272.5 319.2 V321.2 M275.5 319.2 V321.2 M278.5 319.2 V321.2 M279.5 319.2 V321.2 M281.5 319.2 V321.2 M282.5 319.2 V321.2 M283.5 319.2 V321.2 M284.5 319.2 V321.2 M285.5 319.2 V322.2 M291.5 319.2 V321.2 M295.5 319.2 V321.2 M297.5 319.2 V321.2 M299.5 319.2 V321.2 M300.5 319.2 V321.2 M302.5 319.2 V321.2 M303.5 319.2 V321.2 M304.5 319.2 V321.2 M305.5 319.2 V322.2 M227.5 319.5 H225.5 M227.5 317.5 H225.5 M227.5 314.5 H225.5 M227.5 312.5 H225.5 M227.5 310.5 H225.5 M227.5 308.5 H225.5 M227.5 306.5 H225.5 M227.5 303.5 H225.5 M227.5 301.5 H225.5 M227.5 299.5 H225.5 M227.5 297.5 H225.5 M227.5 295.5 H225.5 M227.5 292.5 H225.5 M227.5 290.5 H225.5 M227.5 288.5 H225.5 M227.5 286.5 H225.5 M227.5 284.5 H225.5 M227.5 281.5 H225.5 M227.5 279.5 H225.5 M227.5 277.5 H225.5 M227.5 275.5 H225.5 M227.5 273.5 H225.5 M227.5 270.5 H225.5 M227.5 268.5 H225.5 M227.5 266.5 H225.5 M227.5 264.5 H225.5 M227.5 262.5 H225.5 M227.5 259.5 H225.5 M227.5 257.5 H225.5 M227.5 255.5 H225.5 M227.5 253.5 H225.5 M227.5 251.5 H225.5 M227.5 248.5 H225.5 M227.5 319.5 H224.3 M227.5 304.5 H224.3 M227.5 290.5 H224.3 M227.5 275.5 H224.3 M227.5 261.5 H224.3 M227.5 247.5 H224.3" stroke="#000" stroke-width="1" fill="none"/>
<text transform="translate(220.9 318.8) rotate(-90) scale(1 1.15)" font-size="6.6" text-anchor="middle" font-family="'Liberation Sans', Arial, Helvetica, sans-serif" fill="#000" stroke="#000" stroke-width="0.28">0</text>
<text transform="translate(220.9 304.36) rotate(-90) scale(1 1.15)" font-size="6.6" text-anchor="middle" font-family="'Liberation Sans', Arial, Helvetica, sans-serif" fill="#000" stroke="#000" stroke-width="0.28">10</text>
<text transform="translate(220.9 289.92) rotate(-90) scale(1 1.15)" font-size="6.6" text-anchor="middle" font-family="'Liberation Sans', Arial, Helvetica, sans-serif" fill="#000" stroke="#000" stroke-width="0.28">20</text>
<text transform="translate(220.9 275.48) rotate(-90) scale(1 1.15)" font-size="6.6" text-anchor="middle" font-family="'Liberation Sans', Arial, Helvetica, sans-serif" fill="#000" stroke="#000" stroke-width="0.28">30</text>
<text transform="translate(220.9 261.04) rotate(-90) scale(1 1.15)" font-size="6.6" text-anchor="middle" font-family="'Liberation Sans', Arial, Helvetica, sans-serif" fill="#000" stroke="#000" stroke-width="0.28">40</text>
<text transform="translate(220.9 246.6) rotate(-90) scale(1 1.15)" font-size="6.6" text-anchor="middle" font-family="'Liberation Sans', Arial, Helvetica, sans-serif" fill="#000" stroke="#000" stroke-width="0.28">50</text>
<text transform="translate(213.4 284.7) rotate(-90)" font-size="7.0" text-anchor="middle" font-family="'Liberation Sans', Arial, Helvetica, sans-serif" fill="#000" stroke="#000" stroke-width="0.28">Counts</text>
<text x="229.4" y="330.9" font-size="6.6" text-anchor="end" font-family="'Liberation Sans', Arial, Helvetica, sans-serif" fill="#000" stroke="#000" stroke-width="0.28">10</text>
<text x="229.7" y="326.8" font-size="6.2" font-family="'Liberation Sans', Arial, Helvetica, sans-serif" fill="#000" stroke="#000" stroke-width="0.28">0</text>
<text x="248.85" y="330.9" font-size="6.6" text-anchor="end" font-family="'Liberation Sans', Arial, Helvetica, sans-serif" fill="#000" stroke="#000" stroke-width="0.28">10</text>
<text x="249.15" y="326.8" font-size="6.2" font-family="'Liberation Sans', Arial, Helvetica, sans-serif" fill="#000" stroke="#000" stroke-width="0.28">1</text>
<text x="268.3" y="330.9" font-size="6.6" text-anchor="end" font-family="'Liberation Sans', Arial, Helvetica, sans-serif" fill="#000" stroke="#000" stroke-width="0.28">10</text>
<text x="268.6" y="326.8" font-size="6.2" font-family="'Liberation Sans', Arial, Helvetica, sans-serif" fill="#000" stroke="#000" stroke-width="0.28">2</text>
<text x="287.75" y="330.9" font-size="6.6" text-anchor="end" font-family="'Liberation Sans', Arial, Helvetica, sans-serif" fill="#000" stroke="#000" stroke-width="0.28">10</text>
<text x="288.05" y="326.8" font-size="6.2" font-family="'Liberation Sans', Arial, Helvetica, sans-serif" fill="#000" stroke="#000" stroke-width="0.28">3</text>
<text x="307.2" y="330.9" font-size="6.6" text-anchor="end" font-family="'Liberation Sans', Arial, Helvetica, sans-serif" fill="#000" stroke="#000" stroke-width="0.28">10</text>
<text x="307.5" y="326.8" font-size="6.2" font-family="'Liberation Sans', Arial, Helvetica, sans-serif" fill="#000" stroke="#000" stroke-width="0.28">4</text>
<text x="267.1" y="340.7" font-size="6.8" text-anchor="middle" font-family="'Liberation Sans', Arial, Helvetica, sans-serif" fill="#000" stroke="#000" stroke-width="0.28">FL2-Height</text>
<clipPath id="c22"><rect x="331.4" y="246.9" width="78" height="73.3"/></clipPath>
<g clip-path="url(#c22)">
<path d="M332.3 320.2 L332.3 320.7 L332.3 305.4 L332.5 305.4 L333.5 304.4 L335.1 302.9 L336.6 302.4 L338.1 303.4 L339.1 300.4 L340.1 297.3 L341.3 295.3 L342.3 298.3 L343.1 294.3 L344.1 288.2 L344.9 286.2 L346.2 287.2 L347.2 289.2 L348.2 289.2 L349.2 291.3 L350.2 292.3 L351.2 295.3 L352.4 300.4 L353.7 306.4 L355.1 312.5 L356.3 317.5 L357.1 319.9 L357.3 320.7 L357.3 320.2 Z" fill="#8e8e8e" stroke="#000" stroke-width="0.9" stroke-linejoin="round"/>
<path d="M331.4 320.2 L331.4 299.3 L332.3 299.3 L332.5 299.3 L333.5 298.3 L334.5 295.3 L335.6 293.3 L337.1 291.8 L338.6 289.2 L340.1 285.2 L341.1 282.2 L341.9 278.1 L342.6 277.1 L343.3 280.2 L343.9 282.7 L344.6 278.1 L345.7 279.1 L346.7 281.2 L348 283.2 L348.7 286.2 L349.7 289.2 L350.7 292.3 L351.7 297.3 L352.7 302.4 L354 308.4 L355.3 313.5 L356.5 317.5 L357.3 319.9 L357.5 319.9" fill="none" stroke="#000" stroke-width="0.9" stroke-linejoin="round"/>
<path d="M332.3 272 V299.3" stroke="#000" stroke-width="1.4"/>
</g>
<path d="M331.4 246.5 H409.5 V320.2" fill="none" stroke="#000" stroke-width="1.0"/>
<path d="M331.4 246.4 V320.2 H409.9" fill="none" stroke="#000" stroke-width="1.5"/>
<path d="M331.5 320.2 V323.2 M337.5 320.2 V322.2 M340.5 320.2 V322.2 M343.5 320.2 V322.2 M345.5 320.2 V322.2 M346.5 320.2 V322.2 M347.5 320.2 V322.2 M349.5 320.2 V322.2 M350.5 320.2 V322.2 M350.5 320.2 V323.2 M356.5 320.2 V322.2 M360.5 320.2 V322.2 M362.5 320.2 V322.2 M364.5 320.2 V322.2 M366.5 320.2 V322.2 M367.5 320.2 V322.2 M368.5 320.2 V322.2 M369.5 320.2 V322.2 M370.5 320.2 V323.2 M376.5 320.2 V322.2 M379.5 320.2 V322.2 M382.5 320.2 V322.2 M384.5 320.2 V322.2 M385.5 320.2 V322.2 M386.5 320.2 V322.2 M388.5 320.2 V322.2 M389.5 320.2 V322.2 M389.5 320.2 V323.2 M395.5 320.2 V322.2 M399.5 320.2 V322.2 M401.5 320.2 V322.2 M403.5 320.2 V322.2 M405.5 320.2 V322.2 M406.5 320.2 V322.2 M407.5 320.2 V322.2 M408.5 320.2 V322.2 M409.5 320.2 V323.2 M331.4 320.5 H329.4 M331.4 318.5 H329.4 M331.4 315.5 H329.4 M331.4 313.5 H329.4 M331.4 311.5 H329.4 M331.4 309.5 H329.4 M331.4 307.5 H329.4 M331.4 304.5 H329.4 M331.4 302.5 H329.4 M331.4 300.5 H329.4 M331.4 298.5 H329.4 M331.4 296.5 H329.4 M331.4 293.5 H329.4 M331.4 291.5 H329.4 M331.4 289.5 H329.4 M331.4 287.5 H329.4 M331.4 285.5 H329.4 M331.4 282.5 H329.4 M331.4 280.5 H329.4 M331.4 278.5 H329.4 M331.4 276.5 H329.4 M331.4 274.5 H329.4 M331.4 271.5 H329.4 M331.4 269.5 H329.4 M331.4 267.5 H329.4 M331.4 265.5 H329.4 M331.4 263.5 H329.4 M331.4 260.5 H329.4 M331.4 258.5 H329.4 M331.4 256.5 H329.4 M331.4 254.5 H329.4 M331.4 252.5 H329.4 M331.4 249.5 H329.4 M331.4 247.5 H329.4 M331.4 320.5 H328.2 M331.4 305.5 H328.2 M331.4 290.5 H328.2 M331.4 276.5 H328.2 M331.4 261.5 H328.2 M331.4 246.5 H328.2" stroke="#000" stroke-width="1" fill="none"/>
<text transform="translate(324.8 319.8) rotate(-90) scale(1 1.15)" font-size="6.6" text-anchor="middle" font-family="'Liberation Sans', Arial, Helvetica, sans-serif" fill="#000" stroke="#000" stroke-width="0.28">0</text>
<text transform="translate(324.8 305.14) rotate(-90) scale(1 1.15)" font-size="6.6" text-anchor="middle" font-family="'Liberation Sans', Arial, Helvetica, sans-serif" fill="#000" stroke="#000" stroke-width="0.28">10</text>
<text transform="translate(324.8 290.48) rotate(-90) scale(1 1.15)" font-size="6.6" text-anchor="middle" font-family="'Liberation Sans', Arial, Helvetica, sans-serif" fill="#000" stroke="#000" stroke-width="0.28">20</text>
<text transform="translate(324.8 275.82) rotate(-90) scale(1 1.15)" font-size="6.6" text-anchor="middle" font-family="'Liberation Sans', Arial, Helvetica, sans-serif" fill="#000" stroke="#000" stroke-width="0.28">30</text>
<text transform="translate(324.8 261.16) rotate(-90) scale(1 1.15)" font-size="6.6" text-anchor="middle" font-family="'Liberation Sans', Arial, Helvetica, sans-serif" fill="#000" stroke="#000" stroke-width="0.28">40</text>
<text transform="translate(324.8 246.5) rotate(-90) scale(1 1.15)" font-size="6.6" text-anchor="middle" font-family="'Liberation Sans', Arial, Helvetica, sans-serif" fill="#000" stroke="#000" stroke-width="0.28">50</text>
<text transform="translate(317.3 285.15) rotate(-90)" font-size="7.0" text-anchor="middle" font-family="'Liberation Sans', Arial, Helvetica, sans-serif" fill="#000" stroke="#000" stroke-width="0.28">Counts</text>
<text x="333.3" y="331.9" font-size="6.6" text-anchor="end" font-family="'Liberation Sans', Arial, Helvetica, sans-serif" fill="#000" stroke="#000" stroke-width="0.28">10</text>
<text x="333.6" y="327.8" font-size="6.2" font-family="'Liberation Sans', Arial, Helvetica, sans-serif" fill="#000" stroke="#000" stroke-width="0.28">0</text>
<text x="352.8" y="331.9" font-size="6.6" text-anchor="end" font-family="'Liberation Sans', Arial, Helvetica, sans-serif" fill="#000" stroke="#000" stroke-width="0.28">10</text>
<text x="353.1" y="327.8" font-size="6.2" font-family="'Liberation Sans', Arial, Helvetica, sans-serif" fill="#000" stroke="#000" stroke-width="0.28">1</text>
<text x="372.3" y="331.9" font-size="6.6" text-anchor="end" font-family="'Liberation Sans', Arial, Helvetica, sans-serif" fill="#000" stroke="#000" stroke-width="0.28">10</text>
<text x="372.6" y="327.8" font-size="6.2" font-family="'Liberation Sans', Arial, Helvetica, sans-serif" fill="#000" stroke="#000" stroke-width="0.28">2</text>
<text x="391.8" y="331.9" font-size="6.6" text-anchor="end" font-family="'Liberation Sans', Arial, Helvetica, sans-serif" fill="#000" stroke="#000" stroke-width="0.28">10</text>
<text x="392.1" y="327.8" font-size="6.2" font-family="'Liberation Sans', Arial, Helvetica, sans-serif" fill="#000" stroke="#000" stroke-width="0.28">3</text>
<text x="411.3" y="331.9" font-size="6.6" text-anchor="end" font-family="'Liberation Sans', Arial, Helvetica, sans-serif" fill="#000" stroke="#000" stroke-width="0.28">10</text>
<text x="411.6" y="327.8" font-size="6.2" font-family="'Liberation Sans', Arial, Helvetica, sans-serif" fill="#000" stroke="#000" stroke-width="0.28">4</text>
<text x="370.3" y="340.6" font-size="6.8" text-anchor="middle" font-family="'Liberation Sans', Arial, Helvetica, sans-serif" fill="#000" stroke="#000" stroke-width="0.28">FL2-Height</text>
<clipPath id="c23"><rect x="436.2" y="249.1" width="74.8" height="71.3"/></clipPath>
<g clip-path="url(#c23)">
<path d="M437.2 320.4 L437.2 320.5 L437.2 314.5 L438 314.5 L439.1 313.5 L440.1 311.5 L441.1 312 L442.1 311.5 L443.1 312.5 L444.1 311 L445.6 309.4 L447.1 309.4 L449.2 308.9 L451.2 307.9 L452.2 308.4 L453.2 308.9 L454.2 308.4 L455.7 307.9 L457.2 308.4 L458.7 307.4 L459.8 306.4 L460.8 308.4 L462.3 306.4 L463.8 307.4 L465.3 305.4 L466.8 303.4 L468.3 302.9 L469.9 300.4 L470.9 299.6 L471.9 301.3 L472.9 302.4 L473.9 302 L474.8 305 L476.3 304 L477.7 306 L479.1 306 L480.6 307.9 L482 308.8 L483.5 310.8 L484.9 311.7 L485.9 314.6 L486.8 316.5 L487.8 319.4 L488 320.5 L488 320.4 Z" fill="#8e8e8e" stroke="#000" stroke-width="0.9" stroke-linejoin="round"/>
<path d="M436.2 320.4 L436.2 299.8 L437.2 299.8 L438 299.8 L439.1 297.3 L440.1 295.3 L441.6 293.3 L443.1 291.3 L444.1 288.2 L445.1 283.2 L446.1 279.1 L446.6 278.1 L447.4 281.7 L448.1 282.7 L448.9 279.1 L450 279.6 L451 281.2 L452.2 284.2 L453.2 288.2 L454.2 292.3 L455 296.3 L455.7 301.4 L456.4 305.4 L457.2 308.4 L458.2 309.4 L459 315.5 L459.5 320.1 L459.6 320.1" fill="none" stroke="#000" stroke-width="0.9" stroke-linejoin="round"/>
<path d="M437.1 273 V299.8" stroke="#000" stroke-width="1.4"/>
</g>
<path d="M436.2 249.5 H511.5 V320.4" fill="none" stroke="#000" stroke-width="1.0"/>
<path d="M436.2 248.6 V320.4 H511.5" fill="none" stroke="#000" stroke-width="1.5"/>
<path d="M436.5 320.4 V323.4 M441.5 320.4 V322.4 M445.5 320.4 V322.4 M447.5 320.4 V322.4 M449.5 320.4 V322.4 M450.5 320.4 V322.4 M452.5 320.4 V322.4 M453.5 320.4 V322.4 M454.5 320.4 V322.4 M454.5 320.4 V323.4 M460.5 320.4 V322.4 M463.5 320.4 V322.4 M466.5 320.4 V322.4 M467.5 320.4 V322.4 M469.5 320.4 V322.4 M470.5 320.4 V322.4 M471.5 320.4 V322.4 M472.5 320.4 V322.4 M473.5 320.4 V323.4 M479.5 320.4 V322.4 M482.5 320.4 V322.4 M484.5 320.4 V322.4 M486.5 320.4 V322.4 M488.5 320.4 V322.4 M489.5 320.4 V322.4 M490.5 320.4 V322.4 M491.5 320.4 V322.4 M492.5 320.4 V323.4 M497.5 320.4 V322.4 M501.5 320.4 V322.4 M503.5 320.4 V322.4 M505.5 320.4 V322.4 M506.5 320.4 V322.4 M508.5 320.4 V322.4 M509.5 320.4 V322.4 M510.5 320.4 V322.4 M511.5 320.4 V323.4 M436.2 320.5 H434.2 M436.2 318.5 H434.2 M436.2 316.5 H434.2 M436.2 313.5 H434.2 M436.2 311.5 H434.2 M436.2 309.5 H434.2 M436.2 307.5 H434.2 M436.2 305.5 H434.2 M436.2 302.5 H434.2 M436.2 300.5 H434.2 M436.2 298.5 H434.2 M436.2 296.5 H434.2 M436.2 294.5 H434.2 M436.2 291.5 H434.2 M436.2 289.5 H434.2 M436.2 287.5 H434.2 M436.2 285.5 H434.2 M436.2 283.5 H434.2 M436.2 280.5 H434.2 M436.2 278.5 H434.2 M436.2 276.5 H434.2 M436.2 274.5 H434.2 M436.2 272.5 H434.2 M436.2 269.5 H434.2 M436.2 267.5 H434.2 M436.2 265.5 H434.2 M436.2 263.5 H434.2 M436.2 261.5 H434.2 M436.2 258.5 H434.2 M436.2 256.5 H434.2 M436.2 254.5 H434.2 M436.2 252.5 H434.2 M436.2 249.5 H434.2 M436.2 320.5 H433 M436.2 306.5 H433 M436.2 291.5 H433 M436.2 277.5 H433 M436.2 263.5 H433 M436.2 249.5 H433" stroke="#000" stroke-width="1" fill="none"/>
<text transform="translate(429.6 320) rotate(-90) scale(1 1.15)" font-size="6.6" text-anchor="middle" font-family="'Liberation Sans', Arial, Helvetica, sans-serif" fill="#000" stroke="#000" stroke-width="0.28">0</text>
<text transform="translate(429.6 305.74) rotate(-90) scale(1 1.15)" font-size="6.6" text-anchor="middle" font-family="'Liberation Sans', Arial, Helvetica, sans-serif" fill="#000" stroke="#000" stroke-width="0.28">10</text>
<text transform="translate(429.6 291.48) rotate(-90) scale(1 1.15)" font-size="6.6" text-anchor="middle" font-family="'Liberation Sans', Arial, Helvetica, sans-serif" fill="#000" stroke="#000" stroke-width="0.28">20</text>
<text transform="translate(429.6 277.22) rotate(-90) scale(1 1.15)" font-size="6.6" text-anchor="middle" font-family="'Liberation Sans', Arial, Helvetica, sans-serif" fill="#000" stroke="#000" stroke-width="0.28">30</text>
<text transform="translate(429.6 262.96) rotate(-90) scale(1 1.15)" font-size="6.6" text-anchor="middle" font-family="'Liberation Sans', Arial, Helvetica, sans-serif" fill="#000" stroke="#000" stroke-width="0.28">40</text>
<text transform="translate(429.6 248.7) rotate(-90) scale(1 1.15)" font-size="6.6" text-anchor="middle" font-family="'Liberation Sans', Arial, Helvetica, sans-serif" fill="#000" stroke="#000" stroke-width="0.28">50</text>
<text transform="translate(422.1 286.35) rotate(-90)" font-size="7.0" text-anchor="middle" font-family="'Liberation Sans', Arial, Helvetica, sans-serif" fill="#000" stroke="#000" stroke-width="0.28">Counts</text>
<text x="438.1" y="332.1" font-size="6.6" text-anchor="end" font-family="'Liberation Sans', Arial, Helvetica, sans-serif" fill="#000" stroke="#000" stroke-width="0.28">10</text>
<text x="438.4" y="328" font-size="6.2" font-family="'Liberation Sans', Arial, Helvetica, sans-serif" fill="#000" stroke="#000" stroke-width="0.28">0</text>
<text x="456.8" y="332.1" font-size="6.6" text-anchor="end" font-family="'Liberation Sans', Arial, Helvetica, sans-serif" fill="#000" stroke="#000" stroke-width="0.28">10</text>
<text x="457.1" y="328" font-size="6.2" font-family="'Liberation Sans', Arial, Helvetica, sans-serif" fill="#000" stroke="#000" stroke-width="0.28">1</text>
<text x="475.5" y="332.1" font-size="6.6" text-anchor="end" font-family="'Liberation Sans', Arial, Helvetica, sans-serif" fill="#000" stroke="#000" stroke-width="0.28">10</text>
<text x="475.8" y="328" font-size="6.2" font-family="'Liberation Sans', Arial, Helvetica, sans-serif" fill="#000" stroke="#000" stroke-width="0.28">2</text>
<text x="494.2" y="332.1" font-size="6.6" text-anchor="end" font-family="'Liberation Sans', Arial, Helvetica, sans-serif" fill="#000" stroke="#000" stroke-width="0.28">10</text>
<text x="494.5" y="328" font-size="6.2" font-family="'Liberation Sans', Arial, Helvetica, sans-serif" fill="#000" stroke="#000" stroke-width="0.28">3</text>
<text x="512.9" y="332.1" font-size="6.6" text-anchor="end" font-family="'Liberation Sans', Arial, Helvetica, sans-serif" fill="#000" stroke="#000" stroke-width="0.28">10</text>
<text x="513.2" y="328" font-size="6.2" font-family="'Liberation Sans', Arial, Helvetica, sans-serif" fill="#000" stroke="#000" stroke-width="0.28">4</text>
<text x="473.85" y="341.3" font-size="6.8" text-anchor="middle" font-family="'Liberation Sans', Arial, Helvetica, sans-serif" fill="#000" stroke="#000" stroke-width="0.28">FL2-Height</text>
<clipPath id="c30"><rect x="125.1" y="355.1" width="76.5" height="74.4"/></clipPath>
<g clip-path="url(#c30)">
<path d="M126.3 429.5 L126.3 428.6 L126.3 424.5 L126.5 424.5 L127.5 422.5 L128.6 424.5 L129.6 422.5 L130.6 423.5 L131.6 421.5 L132.6 420.5 L133.6 422 L134.6 420.5 L136.1 420 L138.2 420 L139.7 419.4 L141 420 L142.2 418.4 L143.2 417.4 L144.2 415.4 L145.2 413.4 L146.4 411.4 L147.7 409.3 L148.8 405.3 L149.8 400.3 L150.5 394.2 L151.3 395.2 L152.1 392.2 L152.8 387.1 L153.5 381.1 L154.1 380.1 L154.8 385.1 L155.5 386.1 L156.3 384.6 L157.3 388.1 L158.6 393.5 L160 400.5 L160.6 403.3 L162.1 411.4 L163.6 417.4 L165.1 420.5 L166.1 420 L167.6 422.5 L169.1 423 L170.7 421.5 L171.7 423.5 L173.2 424.5 L174.7 425.5 L176.2 427 L179.2 427.5 L185.3 427.5 L190.4 428 L201.3 428.3 L201.3 428.6 L201.3 429.5 Z" fill="#999999" stroke="#000" stroke-width="0.9" stroke-linejoin="round"/>
<path d="M125.1 429.5 L125.1 399.2 L126.3 399.2 L127 399.2 L128.1 397.7 L129.1 396.2 L130.1 398.2 L130.9 401.8 L131.6 395.2 L132.6 392.2 L133.6 393.7 L134.6 390.2 L135.6 387.1 L136.6 384.1 L137.3 382.6 L138.2 384.6 L139.2 388.1 L140.2 391.7 L141.2 395.2 L142.2 398.7 L143 402.8 L143.7 408.3 L144.2 413.4 L145.2 416.4 L146.2 419.4 L147.7 423 L149.3 425.5 L151.3 426.5 L155.3 427 L160 427.3 L166 426.8 L172 427.3 L180 429.2 L201 429.2" fill="none" stroke="#000" stroke-width="0.9" stroke-linejoin="round"/>
<path d="M126 379 V399.2" stroke="#000" stroke-width="1.4"/>
</g>
<path d="M125.1 355.5 H201.5 V429.5" fill="none" stroke="#000" stroke-width="1.0"/>
<path d="M125.1 354.6 V429.5 H202.1" fill="none" stroke="#000" stroke-width="1.5"/>
<path d="M125.5 429.5 V432.5 M130.5 429.5 V431.5 M134.5 429.5 V431.5 M136.5 429.5 V431.5 M138.5 429.5 V431.5 M139.5 429.5 V431.5 M141.5 429.5 V431.5 M142.5 429.5 V431.5 M143.5 429.5 V431.5 M144.5 429.5 V432.5 M149.5 429.5 V431.5 M153.5 429.5 V431.5 M155.5 429.5 V431.5 M157.5 429.5 V431.5 M159.5 429.5 V431.5 M160.5 429.5 V431.5 M161.5 429.5 V431.5 M162.5 429.5 V431.5 M163.5 429.5 V432.5 M169.5 429.5 V431.5 M172.5 429.5 V431.5 M174.5 429.5 V431.5 M176.5 429.5 V431.5 M178.5 429.5 V431.5 M179.5 429.5 V431.5 M180.5 429.5 V431.5 M181.5 429.5 V431.5 M182.5 429.5 V432.5 M188.5 429.5 V431.5 M191.5 429.5 V431.5 M193.5 429.5 V431.5 M195.5 429.5 V431.5 M197.5 429.5 V431.5 M198.5 429.5 V431.5 M199.5 429.5 V431.5 M200.5 429.5 V431.5 M201.5 429.5 V432.5 M125.1 429.5 H123.1 M125.1 427.5 H123.1 M125.1 425.5 H123.1 M125.1 422.5 H123.1 M125.1 420.5 H123.1 M125.1 418.5 H123.1 M125.1 416.5 H123.1 M125.1 414.5 H123.1 M125.1 411.5 H123.1 M125.1 409.5 H123.1 M125.1 407.5 H123.1 M125.1 405.5 H123.1 M125.1 403.5 H123.1 M125.1 400.5 H123.1 M125.1 398.5 H123.1 M125.1 396.5 H123.1 M125.1 394.5 H123.1 M125.1 392.5 H123.1 M125.1 389.5 H123.1 M125.1 387.5 H123.1 M125.1 385.5 H123.1 M125.1 383.5 H123.1 M125.1 381.5 H123.1 M125.1 378.5 H123.1 M125.1 376.5 H123.1 M125.1 374.5 H123.1 M125.1 372.5 H123.1 M125.1 370.5 H123.1 M125.1 367.5 H123.1 M125.1 365.5 H123.1 M125.1 363.5 H123.1 M125.1 361.5 H123.1 M125.1 359.5 H123.1 M125.1 356.5 H123.1 M125.1 429.5 H121.9 M125.1 414.5 H121.9 M125.1 399.5 H121.9 M125.1 384.5 H121.9 M125.1 369.5 H121.9 M125.1 355.5 H121.9" stroke="#000" stroke-width="1" fill="none"/>
<text transform="translate(118.5 429.1) rotate(-90) scale(1 1.15)" font-size="6.6" text-anchor="middle" font-family="'Liberation Sans', Arial, Helvetica, sans-serif" fill="#000" stroke="#000" stroke-width="0.28">0</text>
<text transform="translate(118.5 414.22) rotate(-90) scale(1 1.15)" font-size="6.6" text-anchor="middle" font-family="'Liberation Sans', Arial, Helvetica, sans-serif" fill="#000" stroke="#000" stroke-width="0.28">10</text>
<text transform="translate(118.5 399.34) rotate(-90) scale(1 1.15)" font-size="6.6" text-anchor="middle" font-family="'Liberation Sans', Arial, Helvetica, sans-serif" fill="#000" stroke="#000" stroke-width="0.28">20</text>
<text transform="translate(118.5 384.46) rotate(-90) scale(1 1.15)" font-size="6.6" text-anchor="middle" font-family="'Liberation Sans', Arial, Helvetica, sans-serif" fill="#000" stroke="#000" stroke-width="0.28">30</text>
<text transform="translate(118.5 369.58) rotate(-90) scale(1 1.15)" font-size="6.6" text-anchor="middle" font-family="'Liberation Sans', Arial, Helvetica, sans-serif" fill="#000" stroke="#000" stroke-width="0.28">40</text>
<text transform="translate(118.5 354.7) rotate(-90) scale(1 1.15)" font-size="6.6" text-anchor="middle" font-family="'Liberation Sans', Arial, Helvetica, sans-serif" fill="#000" stroke="#000" stroke-width="0.28">50</text>
<text transform="translate(111 393.9) rotate(-90)" font-size="7.0" text-anchor="middle" font-family="'Liberation Sans', Arial, Helvetica, sans-serif" fill="#000" stroke="#000" stroke-width="0.28">Counts</text>
<text x="127" y="441.3" font-size="6.6" text-anchor="end" font-family="'Liberation Sans', Arial, Helvetica, sans-serif" fill="#000" stroke="#000" stroke-width="0.28">10</text>
<text x="127.3" y="437.2" font-size="6.2" font-family="'Liberation Sans', Arial, Helvetica, sans-serif" fill="#000" stroke="#000" stroke-width="0.28">0</text>
<text x="146.12" y="441.3" font-size="6.6" text-anchor="end" font-family="'Liberation Sans', Arial, Helvetica, sans-serif" fill="#000" stroke="#000" stroke-width="0.28">10</text>
<text x="146.42" y="437.2" font-size="6.2" font-family="'Liberation Sans', Arial, Helvetica, sans-serif" fill="#000" stroke="#000" stroke-width="0.28">1</text>
<text x="165.25" y="441.3" font-size="6.6" text-anchor="end" font-family="'Liberation Sans', Arial, Helvetica, sans-serif" fill="#000" stroke="#000" stroke-width="0.28">10</text>
<text x="165.55" y="437.2" font-size="6.2" font-family="'Liberation Sans', Arial, Helvetica, sans-serif" fill="#000" stroke="#000" stroke-width="0.28">2</text>
<text x="184.38" y="441.3" font-size="6.6" text-anchor="end" font-family="'Liberation Sans', Arial, Helvetica, sans-serif" fill="#000" stroke="#000" stroke-width="0.28">10</text>
<text x="184.67" y="437.2" font-size="6.2" font-family="'Liberation Sans', Arial, Helvetica, sans-serif" fill="#000" stroke="#000" stroke-width="0.28">3</text>
<text x="203.5" y="441.3" font-size="6.6" text-anchor="end" font-family="'Liberation Sans', Arial, Helvetica, sans-serif" fill="#000" stroke="#000" stroke-width="0.28">10</text>
<text x="203.8" y="437.2" font-size="6.2" font-family="'Liberation Sans', Arial, Helvetica, sans-serif" fill="#000" stroke="#000" stroke-width="0.28">4</text>
<text x="161.3" y="451.1" font-size="6.8" text-anchor="middle" font-family="'Liberation Sans', Arial, Helvetica, sans-serif" fill="#000" stroke="#000" stroke-width="0.28">FL2-Height</text>
<clipPath id="c31"><rect x="229.9" y="354.7" width="76.2" height="75.1"/></clipPath>
<g clip-path="url(#c31)">
<path d="M231 429.8 L231 429.3 L231 422.5 L231.5 422.5 L232.5 421.5 L233.6 419.4 L235.1 417.4 L236.6 416.4 L238.1 415.9 L239.6 414.4 L241.1 412.4 L242.1 409.3 L243.2 407.3 L244.2 405.3 L245.2 403.3 L246.2 400.3 L247 397.2 L247.7 394.2 L248.4 392.2 L249 388.1 L249.4 387.1 L250 391.2 L250.7 393.2 L251.4 392.2 L252.2 394.2 L253.1 396.2 L253.8 394.2 L254.5 392.2 L255.3 393.2 L256.1 396.2 L256.9 396.7 L257.8 400.3 L258.8 403.3 L259.8 405.3 L260.8 409.3 L261.8 412.4 L262.8 416.4 L263.9 418.4 L264.9 421.5 L265.9 423.5 L267.6 425 L269.1 425.5 L270.6 426.5 L272.1 427 L274.1 427.5 L276.2 428 L280.2 427.5 L283.2 428.5 L290.3 428.3 L306.5 428.5 L306.5 429.3 L306.5 429.8 Z" fill="#999999" stroke="#000" stroke-width="0.9" stroke-linejoin="round"/>
<path d="M229.9 429.8 L229.9 399.2 L231 399.2 L231.5 399.2 L232.5 397.7 L233.6 396.2 L234.6 398.2 L235.3 401.8 L236.1 394.2 L237.1 392.2 L238.1 393.2 L239.1 390.2 L240.1 386.6 L241.1 384.1 L241.8 382.6 L242.6 384.1 L243.7 388.1 L244.7 392.2 L245.7 395.2 L246.7 398.2 L247.4 402.3 L248 408.3 L248.7 414.4 L249.7 419.4 L251 423.5 L252.7 426.5 L254.3 427.5 L260 428 L306 429.5" fill="none" stroke="#000" stroke-width="0.9" stroke-linejoin="round"/>
<path d="M230.8 379 V399.2" stroke="#000" stroke-width="1.4"/>
</g>
<path d="M229.9 354.5 H306.5 V429.8" fill="none" stroke="#000" stroke-width="1.0"/>
<path d="M229.9 354.2 V429.8 H306.6" fill="none" stroke="#000" stroke-width="1.5"/>
<path d="M229.5 429.8 V432.8 M235.5 429.8 V431.8 M238.5 429.8 V431.8 M241.5 429.8 V431.8 M243.5 429.8 V431.8 M244.5 429.8 V431.8 M245.5 429.8 V431.8 M247.5 429.8 V431.8 M248.5 429.8 V431.8 M248.5 429.8 V432.8 M254.5 429.8 V431.8 M258.5 429.8 V431.8 M260.5 429.8 V431.8 M262.5 429.8 V431.8 M263.5 429.8 V431.8 M265.5 429.8 V431.8 M266.5 429.8 V431.8 M267.5 429.8 V431.8 M268.5 429.8 V432.8 M273.5 429.8 V431.8 M277.5 429.8 V431.8 M279.5 429.8 V431.8 M281.5 429.8 V431.8 M282.5 429.8 V431.8 M284.5 429.8 V431.8 M285.5 429.8 V431.8 M286.5 429.8 V431.8 M287.5 429.8 V432.8 M292.5 429.8 V431.8 M296.5 429.8 V431.8 M298.5 429.8 V431.8 M300.5 429.8 V431.8 M301.5 429.8 V431.8 M303.5 429.8 V431.8 M304.5 429.8 V431.8 M305.5 429.8 V431.8 M306.5 429.8 V432.8 M229.9 429.5 H227.9 M229.9 427.5 H227.9 M229.9 425.5 H227.9 M229.9 423.5 H227.9 M229.9 421.5 H227.9 M229.9 418.5 H227.9 M229.9 416.5 H227.9 M229.9 414.5 H227.9 M229.9 412.5 H227.9 M229.9 410.5 H227.9 M229.9 407.5 H227.9 M229.9 405.5 H227.9 M229.9 403.5 H227.9 M229.9 401.5 H227.9 M229.9 399.5 H227.9 M229.9 396.5 H227.9 M229.9 394.5 H227.9 M229.9 392.5 H227.9 M229.9 390.5 H227.9 M229.9 388.5 H227.9 M229.9 385.5 H227.9 M229.9 383.5 H227.9 M229.9 381.5 H227.9 M229.9 379.5 H227.9 M229.9 377.5 H227.9 M229.9 374.5 H227.9 M229.9 372.5 H227.9 M229.9 370.5 H227.9 M229.9 368.5 H227.9 M229.9 366.5 H227.9 M229.9 363.5 H227.9 M229.9 361.5 H227.9 M229.9 359.5 H227.9 M229.9 357.5 H227.9 M229.9 355.5 H227.9 M229.9 429.5 H226.7 M229.9 414.5 H226.7 M229.9 399.5 H226.7 M229.9 384.5 H226.7 M229.9 369.5 H226.7 M229.9 354.5 H226.7" stroke="#000" stroke-width="1" fill="none"/>
<text transform="translate(223.3 429.4) rotate(-90) scale(1 1.15)" font-size="6.6" text-anchor="middle" font-family="'Liberation Sans', Arial, Helvetica, sans-serif" fill="#000" stroke="#000" stroke-width="0.28">0</text>
<text transform="translate(223.3 414.38) rotate(-90) scale(1 1.15)" font-size="6.6" text-anchor="middle" font-family="'Liberation Sans', Arial, Helvetica, sans-serif" fill="#000" stroke="#000" stroke-width="0.28">10</text>
<text transform="translate(223.3 399.36) rotate(-90) scale(1 1.15)" font-size="6.6" text-anchor="middle" font-family="'Liberation Sans', Arial, Helvetica, sans-serif" fill="#000" stroke="#000" stroke-width="0.28">20</text>
<text transform="translate(223.3 384.34) rotate(-90) scale(1 1.15)" font-size="6.6" text-anchor="middle" font-family="'Liberation Sans', Arial, Helvetica, sans-serif" fill="#000" stroke="#000" stroke-width="0.28">30</text>
<text transform="translate(223.3 369.32) rotate(-90) scale(1 1.15)" font-size="6.6" text-anchor="middle" font-family="'Liberation Sans', Arial, Helvetica, sans-serif" fill="#000" stroke="#000" stroke-width="0.28">40</text>
<text transform="translate(223.3 354.3) rotate(-90) scale(1 1.15)" font-size="6.6" text-anchor="middle" font-family="'Liberation Sans', Arial, Helvetica, sans-serif" fill="#000" stroke="#000" stroke-width="0.28">50</text>
<text transform="translate(215.8 393.85) rotate(-90)" font-size="7.0" text-anchor="middle" font-family="'Liberation Sans', Arial, Helvetica, sans-serif" fill="#000" stroke="#000" stroke-width="0.28">Counts</text>
<text x="231.8" y="441.6" font-size="6.6" text-anchor="end" font-family="'Liberation Sans', Arial, Helvetica, sans-serif" fill="#000" stroke="#000" stroke-width="0.28">10</text>
<text x="232.1" y="437.5" font-size="6.2" font-family="'Liberation Sans', Arial, Helvetica, sans-serif" fill="#000" stroke="#000" stroke-width="0.28">0</text>
<text x="250.85" y="441.6" font-size="6.6" text-anchor="end" font-family="'Liberation Sans', Arial, Helvetica, sans-serif" fill="#000" stroke="#000" stroke-width="0.28">10</text>
<text x="251.15" y="437.5" font-size="6.2" font-family="'Liberation Sans', Arial, Helvetica, sans-serif" fill="#000" stroke="#000" stroke-width="0.28">1</text>
<text x="269.9" y="441.6" font-size="6.6" text-anchor="end" font-family="'Liberation Sans', Arial, Helvetica, sans-serif" fill="#000" stroke="#000" stroke-width="0.28">10</text>
<text x="270.2" y="437.5" font-size="6.2" font-family="'Liberation Sans', Arial, Helvetica, sans-serif" fill="#000" stroke="#000" stroke-width="0.28">2</text>
<text x="288.95" y="441.6" font-size="6.6" text-anchor="end" font-family="'Liberation Sans', Arial, Helvetica, sans-serif" fill="#000" stroke="#000" stroke-width="0.28">10</text>
<text x="289.25" y="437.5" font-size="6.2" font-family="'Liberation Sans', Arial, Helvetica, sans-serif" fill="#000" stroke="#000" stroke-width="0.28">3</text>
<text x="308" y="441.6" font-size="6.6" text-anchor="end" font-family="'Liberation Sans', Arial, Helvetica, sans-serif" fill="#000" stroke="#000" stroke-width="0.28">10</text>
<text x="308.3" y="437.5" font-size="6.2" font-family="'Liberation Sans', Arial, Helvetica, sans-serif" fill="#000" stroke="#000" stroke-width="0.28">4</text>
<text x="267.05" y="450.8" font-size="6.8" text-anchor="middle" font-family="'Liberation Sans', Arial, Helvetica, sans-serif" fill="#000" stroke="#000" stroke-width="0.28">FL2-Height</text>
<clipPath id="c32"><rect x="332.8" y="354.7" width="75" height="75.2"/></clipPath>
<g clip-path="url(#c32)">
<path d="M333.9 429.9 L333.9 429.5 L333.9 403.3 L334.5 403.3 L335.5 402.3 L336.6 401.3 L337.6 400.3 L338.6 398.2 L339.6 396.7 L340.6 395.2 L341.6 393.2 L342.3 398.2 L342.9 388.1 L343.6 385.1 L344.3 389.1 L345.1 387.1 L346 389.1 L346.7 391.2 L347.4 390.2 L348.2 392.2 L349 395.2 L349.7 401.3 L350.2 407.3 L350.7 412.4 L351.4 417.4 L352.2 421.5 L353.2 424.5 L354.7 426.5 L356.8 427.5 L359.3 428 L361.3 428.5 L364 429.5 L364 429.9 Z" fill="#999999" stroke="#000" stroke-width="0.9" stroke-linejoin="round"/>
<path d="M332.8 429.9 L332.8 400.3 L333.9 400.3 L334.5 400.3 L335.5 398.7 L336.6 396.7 L337.6 394.7 L338.6 393.7 L339.6 392.7 L340.6 391.2 L341.6 389.1 L342.6 386.1 L343.3 382.1 L343.9 384.1 L344.6 386.1 L345.3 385.1 L346.2 386.1 L347 385.1 L347.7 386.1 L348.4 388.1 L349.2 389.1 L350 391.2 L350.7 395.2 L351.4 401.3 L352 406.3 L352.6 411.4 L353.4 416.4 L354.4 420.5 L355.7 423.5 L357.3 425.5 L359.3 427 L362.3 427.7 L366.4 428 L370.4 429.6 L409 429.6" fill="none" stroke="#000" stroke-width="0.9" stroke-linejoin="round"/>
<path d="M333.7 379 V400.3" stroke="#000" stroke-width="1.4"/>
</g>
<path d="M332.8 354.5 H407.5 V429.9" fill="none" stroke="#000" stroke-width="1.0"/>
<path d="M332.8 354.2 V429.9 H408.3" fill="none" stroke="#000" stroke-width="1.5"/>
<path d="M332.5 429.9 V432.9 M338.5 429.9 V431.9 M341.5 429.9 V431.9 M344.5 429.9 V431.9 M345.5 429.9 V431.9 M347.5 429.9 V431.9 M348.5 429.9 V431.9 M349.5 429.9 V431.9 M350.5 429.9 V431.9 M351.5 429.9 V432.9 M357.5 429.9 V431.9 M360.5 429.9 V431.9 M362.5 429.9 V431.9 M364.5 429.9 V431.9 M366.5 429.9 V431.9 M367.5 429.9 V431.9 M368.5 429.9 V431.9 M369.5 429.9 V431.9 M370.5 429.9 V432.9 M375.5 429.9 V431.9 M379.5 429.9 V431.9 M381.5 429.9 V431.9 M383.5 429.9 V431.9 M384.5 429.9 V431.9 M386.5 429.9 V431.9 M387.5 429.9 V431.9 M388.5 429.9 V431.9 M389.5 429.9 V432.9 M394.5 429.9 V431.9 M397.5 429.9 V431.9 M400.5 429.9 V431.9 M402.5 429.9 V431.9 M403.5 429.9 V431.9 M404.5 429.9 V431.9 M405.5 429.9 V431.9 M406.5 429.9 V431.9 M407.5 429.9 V432.9 M332.8 429.5 H330.8 M332.8 427.5 H330.8 M332.8 425.5 H330.8 M332.8 423.5 H330.8 M332.8 421.5 H330.8 M332.8 418.5 H330.8 M332.8 416.5 H330.8 M332.8 414.5 H330.8 M332.8 412.5 H330.8 M332.8 410.5 H330.8 M332.8 407.5 H330.8 M332.8 405.5 H330.8 M332.8 403.5 H330.8 M332.8 401.5 H330.8 M332.8 399.5 H330.8 M332.8 396.5 H330.8 M332.8 394.5 H330.8 M332.8 392.5 H330.8 M332.8 390.5 H330.8 M332.8 388.5 H330.8 M332.8 385.5 H330.8 M332.8 383.5 H330.8 M332.8 381.5 H330.8 M332.8 379.5 H330.8 M332.8 377.5 H330.8 M332.8 374.5 H330.8 M332.8 372.5 H330.8 M332.8 370.5 H330.8 M332.8 368.5 H330.8 M332.8 366.5 H330.8 M332.8 363.5 H330.8 M332.8 361.5 H330.8 M332.8 359.5 H330.8 M332.8 357.5 H330.8 M332.8 355.5 H330.8 M332.8 429.5 H329.6 M332.8 414.5 H329.6 M332.8 399.5 H329.6 M332.8 384.5 H329.6 M332.8 369.5 H329.6 M332.8 354.5 H329.6" stroke="#000" stroke-width="1" fill="none"/>
<text transform="translate(326.2 429.5) rotate(-90) scale(1 1.15)" font-size="6.6" text-anchor="middle" font-family="'Liberation Sans', Arial, Helvetica, sans-serif" fill="#000" stroke="#000" stroke-width="0.28">0</text>
<text transform="translate(326.2 414.46) rotate(-90) scale(1 1.15)" font-size="6.6" text-anchor="middle" font-family="'Liberation Sans', Arial, Helvetica, sans-serif" fill="#000" stroke="#000" stroke-width="0.28">10</text>
<text transform="translate(326.2 399.42) rotate(-90) scale(1 1.15)" font-size="6.6" text-anchor="middle" font-family="'Liberation Sans', Arial, Helvetica, sans-serif" fill="#000" stroke="#000" stroke-width="0.28">20</text>
<text transform="translate(326.2 384.38) rotate(-90) scale(1 1.15)" font-size="6.6" text-anchor="middle" font-family="'Liberation Sans', Arial, Helvetica, sans-serif" fill="#000" stroke="#000" stroke-width="0.28">30</text>
<text transform="translate(326.2 369.34) rotate(-90) scale(1 1.15)" font-size="6.6" text-anchor="middle" font-family="'Liberation Sans', Arial, Helvetica, sans-serif" fill="#000" stroke="#000" stroke-width="0.28">40</text>
<text transform="translate(326.2 354.3) rotate(-90) scale(1 1.15)" font-size="6.6" text-anchor="middle" font-family="'Liberation Sans', Arial, Helvetica, sans-serif" fill="#000" stroke="#000" stroke-width="0.28">50</text>
<text transform="translate(318.7 393.9) rotate(-90)" font-size="7.0" text-anchor="middle" font-family="'Liberation Sans', Arial, Helvetica, sans-serif" fill="#000" stroke="#000" stroke-width="0.28">Counts</text>
<text x="334.7" y="441.7" font-size="6.6" text-anchor="end" font-family="'Liberation Sans', Arial, Helvetica, sans-serif" fill="#000" stroke="#000" stroke-width="0.28">10</text>
<text x="335" y="437.6" font-size="6.2" font-family="'Liberation Sans', Arial, Helvetica, sans-serif" fill="#000" stroke="#000" stroke-width="0.28">0</text>
<text x="353.45" y="441.7" font-size="6.6" text-anchor="end" font-family="'Liberation Sans', Arial, Helvetica, sans-serif" fill="#000" stroke="#000" stroke-width="0.28">10</text>
<text x="353.75" y="437.6" font-size="6.2" font-family="'Liberation Sans', Arial, Helvetica, sans-serif" fill="#000" stroke="#000" stroke-width="0.28">1</text>
<text x="372.2" y="441.7" font-size="6.6" text-anchor="end" font-family="'Liberation Sans', Arial, Helvetica, sans-serif" fill="#000" stroke="#000" stroke-width="0.28">10</text>
<text x="372.5" y="437.6" font-size="6.2" font-family="'Liberation Sans', Arial, Helvetica, sans-serif" fill="#000" stroke="#000" stroke-width="0.28">2</text>
<text x="390.95" y="441.7" font-size="6.6" text-anchor="end" font-family="'Liberation Sans', Arial, Helvetica, sans-serif" fill="#000" stroke="#000" stroke-width="0.28">10</text>
<text x="391.25" y="437.6" font-size="6.2" font-family="'Liberation Sans', Arial, Helvetica, sans-serif" fill="#000" stroke="#000" stroke-width="0.28">3</text>
<text x="409.7" y="441.7" font-size="6.6" text-anchor="end" font-family="'Liberation Sans', Arial, Helvetica, sans-serif" fill="#000" stroke="#000" stroke-width="0.28">10</text>
<text x="410" y="437.6" font-size="6.2" font-family="'Liberation Sans', Arial, Helvetica, sans-serif" fill="#000" stroke="#000" stroke-width="0.28">4</text>
<text x="370" y="450.8" font-size="6.8" text-anchor="middle" font-family="'Liberation Sans', Arial, Helvetica, sans-serif" fill="#000" stroke="#000" stroke-width="0.28">FL2-Height</text>
<clipPath id="c33"><rect x="436.9" y="354.7" width="74.1" height="74.9"/></clipPath>
<g clip-path="url(#c33)">
<path d="M437.8 429.6 L437.8 429.8 L437.8 412.4 L438.5 412.4 L439.5 408.3 L440.6 404.3 L441.6 401.3 L442.6 405.3 L443.3 407.3 L444.1 400.3 L445.1 396.2 L446.1 394.2 L447.1 391.2 L448.1 388.1 L449.1 386.1 L449.9 385.1 L450.7 388.1 L451.4 392.2 L452.2 395.2 L453.2 399.2 L454.2 403.3 L455.2 408.3 L456.2 413.4 L457.2 417.4 L458.4 421.5 L459.7 424.5 L461.3 426.5 L463.3 427.5 L466.3 428.3 L470 429.8 L470 429.6 Z" fill="#999999" stroke="#000" stroke-width="0.9" stroke-linejoin="round"/>
<path d="M436.9 429.6 L436.9 400.3 L437.8 400.3 L438.5 400.3 L439.5 397.7 L440.6 396.2 L441.6 394.2 L442.6 392.7 L443.6 391.2 L444.6 389.1 L445.6 387.6 L446.6 386.1 L447.6 384.6 L448.6 383.1 L449.6 382.6 L450.7 384.1 L451.4 386.1 L452.2 390.2 L453.2 394.2 L454.2 398.2 L455.2 402.3 L456.2 407.3 L457.2 412.4 L458.4 417.4 L459.7 422.5 L461.3 426 L463.3 427.5 L467.3 429.3 L475 429.3 L510 429.3" fill="none" stroke="#000" stroke-width="0.9" stroke-linejoin="round"/>
<path d="M437.8 379 V400.3" stroke="#000" stroke-width="1.4"/>
</g>
<path d="M436.9 354.5 H511.5 V429.6" fill="none" stroke="#000" stroke-width="1.0"/>
<path d="M436.9 354.2 V429.6 H511.5" fill="none" stroke="#000" stroke-width="1.5"/>
<path d="M436.5 429.6 V432.6 M442.5 429.6 V431.6 M445.5 429.6 V431.6 M448.5 429.6 V431.6 M449.5 429.6 V431.6 M451.5 429.6 V431.6 M452.5 429.6 V431.6 M453.5 429.6 V431.6 M454.5 429.6 V431.6 M455.5 429.6 V432.6 M461.5 429.6 V431.6 M464.5 429.6 V431.6 M466.5 429.6 V431.6 M468.5 429.6 V431.6 M469.5 429.6 V431.6 M471.5 429.6 V431.6 M472.5 429.6 V431.6 M473.5 429.6 V431.6 M473.5 429.6 V432.6 M479.5 429.6 V431.6 M482.5 429.6 V431.6 M485.5 429.6 V431.6 M486.5 429.6 V431.6 M488.5 429.6 V431.6 M489.5 429.6 V431.6 M490.5 429.6 V431.6 M491.5 429.6 V431.6 M492.5 429.6 V432.6 M498.5 429.6 V431.6 M501.5 429.6 V431.6 M503.5 429.6 V431.6 M505.5 429.6 V431.6 M506.5 429.6 V431.6 M508.5 429.6 V431.6 M509.5 429.6 V431.6 M510.5 429.6 V431.6 M511.5 429.6 V432.6 M436.9 429.5 H434.9 M436.9 427.5 H434.9 M436.9 425.5 H434.9 M436.9 423.5 H434.9 M436.9 420.5 H434.9 M436.9 418.5 H434.9 M436.9 416.5 H434.9 M436.9 414.5 H434.9 M436.9 412.5 H434.9 M436.9 409.5 H434.9 M436.9 407.5 H434.9 M436.9 405.5 H434.9 M436.9 403.5 H434.9 M436.9 401.5 H434.9 M436.9 398.5 H434.9 M436.9 396.5 H434.9 M436.9 394.5 H434.9 M436.9 392.5 H434.9 M436.9 390.5 H434.9 M436.9 387.5 H434.9 M436.9 385.5 H434.9 M436.9 383.5 H434.9 M436.9 381.5 H434.9 M436.9 379.5 H434.9 M436.9 376.5 H434.9 M436.9 374.5 H434.9 M436.9 372.5 H434.9 M436.9 370.5 H434.9 M436.9 368.5 H434.9 M436.9 365.5 H434.9 M436.9 363.5 H434.9 M436.9 361.5 H434.9 M436.9 359.5 H434.9 M436.9 357.5 H434.9 M436.9 354.5 H434.9 M436.9 429.5 H433.7 M436.9 414.5 H433.7 M436.9 399.5 H433.7 M436.9 384.5 H433.7 M436.9 369.5 H433.7 M436.9 354.5 H433.7" stroke="#000" stroke-width="1" fill="none"/>
<text transform="translate(430.3 429.2) rotate(-90) scale(1 1.15)" font-size="6.6" text-anchor="middle" font-family="'Liberation Sans', Arial, Helvetica, sans-serif" fill="#000" stroke="#000" stroke-width="0.28">0</text>
<text transform="translate(430.3 414.22) rotate(-90) scale(1 1.15)" font-size="6.6" text-anchor="middle" font-family="'Liberation Sans', Arial, Helvetica, sans-serif" fill="#000" stroke="#000" stroke-width="0.28">10</text>
<text transform="translate(430.3 399.24) rotate(-90) scale(1 1.15)" font-size="6.6" text-anchor="middle" font-family="'Liberation Sans', Arial, Helvetica, sans-serif" fill="#000" stroke="#000" stroke-width="0.28">20</text>
<text transform="translate(430.3 384.26) rotate(-90) scale(1 1.15)" font-size="6.6" text-anchor="middle" font-family="'Liberation Sans', Arial, Helvetica, sans-serif" fill="#000" stroke="#000" stroke-width="0.28">30</text>
<text transform="translate(430.3 369.28) rotate(-90) scale(1 1.15)" font-size="6.6" text-anchor="middle" font-family="'Liberation Sans', Arial, Helvetica, sans-serif" fill="#000" stroke="#000" stroke-width="0.28">40</text>
<text transform="translate(430.3 354.3) rotate(-90) scale(1 1.15)" font-size="6.6" text-anchor="middle" font-family="'Liberation Sans', Arial, Helvetica, sans-serif" fill="#000" stroke="#000" stroke-width="0.28">50</text>
<text transform="translate(422.8 393.75) rotate(-90)" font-size="7.0" text-anchor="middle" font-family="'Liberation Sans', Arial, Helvetica, sans-serif" fill="#000" stroke="#000" stroke-width="0.28">Counts</text>
<text x="438.8" y="441.4" font-size="6.6" text-anchor="end" font-family="'Liberation Sans', Arial, Helvetica, sans-serif" fill="#000" stroke="#000" stroke-width="0.28">10</text>
<text x="439.1" y="437.3" font-size="6.2" font-family="'Liberation Sans', Arial, Helvetica, sans-serif" fill="#000" stroke="#000" stroke-width="0.28">0</text>
<text x="457.32" y="441.4" font-size="6.6" text-anchor="end" font-family="'Liberation Sans', Arial, Helvetica, sans-serif" fill="#000" stroke="#000" stroke-width="0.28">10</text>
<text x="457.62" y="437.3" font-size="6.2" font-family="'Liberation Sans', Arial, Helvetica, sans-serif" fill="#000" stroke="#000" stroke-width="0.28">1</text>
<text x="475.85" y="441.4" font-size="6.6" text-anchor="end" font-family="'Liberation Sans', Arial, Helvetica, sans-serif" fill="#000" stroke="#000" stroke-width="0.28">10</text>
<text x="476.15" y="437.3" font-size="6.2" font-family="'Liberation Sans', Arial, Helvetica, sans-serif" fill="#000" stroke="#000" stroke-width="0.28">2</text>
<text x="494.38" y="441.4" font-size="6.6" text-anchor="end" font-family="'Liberation Sans', Arial, Helvetica, sans-serif" fill="#000" stroke="#000" stroke-width="0.28">10</text>
<text x="494.68" y="437.3" font-size="6.2" font-family="'Liberation Sans', Arial, Helvetica, sans-serif" fill="#000" stroke="#000" stroke-width="0.28">3</text>
<text x="512.9" y="441.4" font-size="6.6" text-anchor="end" font-family="'Liberation Sans', Arial, Helvetica, sans-serif" fill="#000" stroke="#000" stroke-width="0.28">10</text>
<text x="513.2" y="437.3" font-size="6.2" font-family="'Liberation Sans', Arial, Helvetica, sans-serif" fill="#000" stroke="#000" stroke-width="0.28">4</text>
<text x="474" y="451.1" font-size="6.8" text-anchor="middle" font-family="'Liberation Sans', Arial, Helvetica, sans-serif" fill="#000" stroke="#000" stroke-width="0.28">FL2-Height</text>
<clipPath id="c40"><rect x="126.2" y="464.4" width="76.3" height="74"/></clipPath>
<g clip-path="url(#c40)">
<path d="M155.8 538.4 L155.8 537.6 L156.1 536.3 L157.2 535.2 L158.2 533 L159.3 530.9 L160.4 533 L161.5 530.9 L162.6 529.2 L163.7 531.9 L164.7 529.8 L165.8 526.5 L166.9 521.1 L168 514.6 L169.1 508.1 L169.9 501.6 L170.7 494.1 L171.2 488.7 L171.8 486 L172.3 488.7 L172.9 493 L173.6 497.3 L174.5 503.8 L175.6 507.1 L176.6 509.2 L177.7 512.5 L178.8 515.7 L180.1 519 L181.5 522.2 L182.6 522.2 L183.4 524.4 L184.2 527.6 L185.3 527.6 L186.6 527.6 L187.5 530.9 L188.3 535.2 L188.8 537.4 L188.9 537.6 L188.9 538.4 Z" fill="#959595" stroke="#000" stroke-width="0.9" stroke-linejoin="round"/>
<path d="M126.2 538.4 L126.2 501.2 L126.8 501.2 L127.5 501.2 L128.9 499.8 L129.6 495.6 L131 492.8 L132.4 488.6 L133.8 486.5 L135.2 482.3 L136.6 477.4 L138 471.8 L139.1 466.2 L139.8 464.8 L140.8 469 L141.9 474.6 L142.9 483 L143.9 492.8 L145 504 L146.1 513.8 L147.1 522.2 L148.5 529.2 L149.9 533.4 L151.3 535.5 L153.4 536.2 L155.5 535.5 L157.6 535.5 L162 536.5 L202 538.1" fill="none" stroke="#000" stroke-width="0.9" stroke-linejoin="round"/>
<path d="M127.1 483 V501.2" stroke="#000" stroke-width="1.4"/>
</g>
<path d="M126.2 464.5 H202.5 V538.4" fill="none" stroke="#000" stroke-width="1.0"/>
<path d="M126.2 463.9 V538.4 H203" fill="none" stroke="#000" stroke-width="1.5"/>
<path d="M126.5 538.4 V541.4 M131.5 538.4 V540.4 M135.5 538.4 V540.4 M137.5 538.4 V540.4 M139.5 538.4 V540.4 M141.5 538.4 V540.4 M142.5 538.4 V540.4 M143.5 538.4 V540.4 M144.5 538.4 V540.4 M145.5 538.4 V541.4 M151.5 538.4 V540.4 M154.5 538.4 V540.4 M156.5 538.4 V540.4 M158.5 538.4 V540.4 M160.5 538.4 V540.4 M161.5 538.4 V540.4 M162.5 538.4 V540.4 M163.5 538.4 V540.4 M164.5 538.4 V541.4 M170.5 538.4 V540.4 M173.5 538.4 V540.4 M175.5 538.4 V540.4 M177.5 538.4 V540.4 M179.5 538.4 V540.4 M180.5 538.4 V540.4 M181.5 538.4 V540.4 M182.5 538.4 V540.4 M183.5 538.4 V541.4 M189.5 538.4 V540.4 M192.5 538.4 V540.4 M194.5 538.4 V540.4 M196.5 538.4 V540.4 M198.5 538.4 V540.4 M199.5 538.4 V540.4 M200.5 538.4 V540.4 M201.5 538.4 V540.4 M202.5 538.4 V541.4 M126.2 538.5 H124.2 M126.2 536.5 H124.2 M126.2 534.5 H124.2 M126.2 531.5 H124.2 M126.2 529.5 H124.2 M126.2 527.5 H124.2 M126.2 525.5 H124.2 M126.2 523.5 H124.2 M126.2 520.5 H124.2 M126.2 518.5 H124.2 M126.2 516.5 H124.2 M126.2 514.5 H124.2 M126.2 512.5 H124.2 M126.2 509.5 H124.2 M126.2 507.5 H124.2 M126.2 505.5 H124.2 M126.2 503.5 H124.2 M126.2 501.5 H124.2 M126.2 498.5 H124.2 M126.2 496.5 H124.2 M126.2 494.5 H124.2 M126.2 492.5 H124.2 M126.2 490.5 H124.2 M126.2 487.5 H124.2 M126.2 485.5 H124.2 M126.2 483.5 H124.2 M126.2 481.5 H124.2 M126.2 479.5 H124.2 M126.2 476.5 H124.2 M126.2 474.5 H124.2 M126.2 472.5 H124.2 M126.2 470.5 H124.2 M126.2 468.5 H124.2 M126.2 465.5 H124.2 M126.2 538.5 H123 M126.2 523.5 H123 M126.2 508.5 H123 M126.2 494.5 H123 M126.2 479.5 H123 M126.2 464.5 H123" stroke="#000" stroke-width="1" fill="none"/>
<text transform="translate(119.6 538) rotate(-90) scale(1 1.15)" font-size="6.6" text-anchor="middle" font-family="'Liberation Sans', Arial, Helvetica, sans-serif" fill="#000" stroke="#000" stroke-width="0.28">0</text>
<text transform="translate(119.6 523.2) rotate(-90) scale(1 1.15)" font-size="6.6" text-anchor="middle" font-family="'Liberation Sans', Arial, Helvetica, sans-serif" fill="#000" stroke="#000" stroke-width="0.28">10</text>
<text transform="translate(119.6 508.4) rotate(-90) scale(1 1.15)" font-size="6.6" text-anchor="middle" font-family="'Liberation Sans', Arial, Helvetica, sans-serif" fill="#000" stroke="#000" stroke-width="0.28">20</text>
<text transform="translate(119.6 493.6) rotate(-90) scale(1 1.15)" font-size="6.6" text-anchor="middle" font-family="'Liberation Sans', Arial, Helvetica, sans-serif" fill="#000" stroke="#000" stroke-width="0.28">30</text>
<text transform="translate(119.6 478.8) rotate(-90) scale(1 1.15)" font-size="6.6" text-anchor="middle" font-family="'Liberation Sans', Arial, Helvetica, sans-serif" fill="#000" stroke="#000" stroke-width="0.28">40</text>
<text transform="translate(119.6 464) rotate(-90) scale(1 1.15)" font-size="6.6" text-anchor="middle" font-family="'Liberation Sans', Arial, Helvetica, sans-serif" fill="#000" stroke="#000" stroke-width="0.28">50</text>
<text transform="translate(112.1 503) rotate(-90)" font-size="7.0" text-anchor="middle" font-family="'Liberation Sans', Arial, Helvetica, sans-serif" fill="#000" stroke="#000" stroke-width="0.28">Counts</text>
<text x="128.1" y="550.2" font-size="6.6" text-anchor="end" font-family="'Liberation Sans', Arial, Helvetica, sans-serif" fill="#000" stroke="#000" stroke-width="0.28">10</text>
<text x="128.4" y="546.1" font-size="6.2" font-family="'Liberation Sans', Arial, Helvetica, sans-serif" fill="#000" stroke="#000" stroke-width="0.28">0</text>
<text x="147.18" y="550.2" font-size="6.6" text-anchor="end" font-family="'Liberation Sans', Arial, Helvetica, sans-serif" fill="#000" stroke="#000" stroke-width="0.28">10</text>
<text x="147.47" y="546.1" font-size="6.2" font-family="'Liberation Sans', Arial, Helvetica, sans-serif" fill="#000" stroke="#000" stroke-width="0.28">1</text>
<text x="166.25" y="550.2" font-size="6.6" text-anchor="end" font-family="'Liberation Sans', Arial, Helvetica, sans-serif" fill="#000" stroke="#000" stroke-width="0.28">10</text>
<text x="166.55" y="546.1" font-size="6.2" font-family="'Liberation Sans', Arial, Helvetica, sans-serif" fill="#000" stroke="#000" stroke-width="0.28">2</text>
<text x="185.33" y="550.2" font-size="6.6" text-anchor="end" font-family="'Liberation Sans', Arial, Helvetica, sans-serif" fill="#000" stroke="#000" stroke-width="0.28">10</text>
<text x="185.62" y="546.1" font-size="6.2" font-family="'Liberation Sans', Arial, Helvetica, sans-serif" fill="#000" stroke="#000" stroke-width="0.28">3</text>
<text x="204.4" y="550.2" font-size="6.6" text-anchor="end" font-family="'Liberation Sans', Arial, Helvetica, sans-serif" fill="#000" stroke="#000" stroke-width="0.28">10</text>
<text x="204.7" y="546.1" font-size="6.2" font-family="'Liberation Sans', Arial, Helvetica, sans-serif" fill="#000" stroke="#000" stroke-width="0.28">4</text>
<text x="163.7" y="559.1" font-size="6.8" text-anchor="middle" font-family="'Liberation Sans', Arial, Helvetica, sans-serif" fill="#000" stroke="#000" stroke-width="0.28">FL2-Height</text>
<clipPath id="c41"><rect x="232.6" y="463.9" width="75.9" height="75.1"/></clipPath>
<g clip-path="url(#c41)">
<path d="M262.3 539 L262.3 538.3 L262.5 536.3 L264.2 535.2 L265.2 533 L266.1 528.7 L266.9 531.9 L268 530.9 L268.7 525.5 L269.6 529.8 L270.7 530.9 L271.7 529.8 L272.8 527.6 L273.9 523.3 L275 517.9 L275.9 510.3 L276.6 503.8 L277.2 498.4 L277.7 496.2 L278.2 493 L279.1 487.6 L279.9 491.9 L280.6 495.2 L281.5 496.2 L282.3 503.8 L283.1 506 L284.2 510.3 L284.9 512.5 L285.8 519 L287.1 521.1 L288.2 523.3 L289.3 524.4 L290.4 525.5 L291.4 526.5 L292.5 529.8 L293.6 533 L294.5 535.7 L295.3 537.9 L295.4 538.3 L295.4 539 Z" fill="#959595" stroke="#000" stroke-width="0.9" stroke-linejoin="round"/>
<path d="M232.6 539 L232.6 501.2 L233.2 501.2 L233.5 501.2 L234.5 499.8 L235.6 495.6 L237 492.1 L238.4 488.6 L239.8 485.8 L241.2 481.6 L242.6 476 L244 470.4 L245.1 465.5 L246.1 464.1 L247.1 467.6 L248.2 473.2 L249.3 480.2 L250.3 490 L251.3 501.2 L252.4 512.4 L253.5 522.2 L254.9 530.6 L256.6 534.8 L258 536.9 L260.1 538.7 L262.2 536.9 L264.3 536 L270 537.2 L308 538.7" fill="none" stroke="#000" stroke-width="0.9" stroke-linejoin="round"/>
<path d="M233.5 483 V501.2" stroke="#000" stroke-width="1.4"/>
</g>
<path d="M232.6 463.5 H308.5 V539" fill="none" stroke="#000" stroke-width="1.0"/>
<path d="M232.6 463.4 V539 H309" fill="none" stroke="#000" stroke-width="1.5"/>
<path d="M232.5 539 V542 M238.5 539 V541 M241.5 539 V541 M244.5 539 V541 M245.5 539 V541 M247.5 539 V541 M248.5 539 V541 M249.5 539 V541 M250.5 539 V541 M251.5 539 V542 M257.5 539 V541 M260.5 539 V541 M262.5 539 V541 M264.5 539 V541 M266.5 539 V541 M267.5 539 V541 M268.5 539 V541 M269.5 539 V541 M270.5 539 V542 M276.5 539 V541 M279.5 539 V541 M281.5 539 V541 M283.5 539 V541 M285.5 539 V541 M286.5 539 V541 M287.5 539 V541 M288.5 539 V541 M289.5 539 V542 M295.5 539 V541 M298.5 539 V541 M300.5 539 V541 M302.5 539 V541 M304.5 539 V541 M305.5 539 V541 M306.5 539 V541 M307.5 539 V541 M308.5 539 V542 M232.6 539.5 H230.6 M232.6 536.5 H230.6 M232.6 534.5 H230.6 M232.6 532.5 H230.6 M232.6 530.5 H230.6 M232.6 528.5 H230.6 M232.6 525.5 H230.6 M232.6 523.5 H230.6 M232.6 521.5 H230.6 M232.6 519.5 H230.6 M232.6 517.5 H230.6 M232.6 514.5 H230.6 M232.6 512.5 H230.6 M232.6 510.5 H230.6 M232.6 508.5 H230.6 M232.6 506.5 H230.6 M232.6 503.5 H230.6 M232.6 501.5 H230.6 M232.6 499.5 H230.6 M232.6 497.5 H230.6 M232.6 495.5 H230.6 M232.6 492.5 H230.6 M232.6 490.5 H230.6 M232.6 488.5 H230.6 M232.6 486.5 H230.6 M232.6 484.5 H230.6 M232.6 481.5 H230.6 M232.6 479.5 H230.6 M232.6 477.5 H230.6 M232.6 475.5 H230.6 M232.6 473.5 H230.6 M232.6 470.5 H230.6 M232.6 468.5 H230.6 M232.6 466.5 H230.6 M232.6 464.5 H230.6 M232.6 539.5 H229.4 M232.6 523.5 H229.4 M232.6 508.5 H229.4 M232.6 493.5 H229.4 M232.6 478.5 H229.4 M232.6 463.5 H229.4" stroke="#000" stroke-width="1" fill="none"/>
<text transform="translate(226 538.6) rotate(-90) scale(1 1.15)" font-size="6.6" text-anchor="middle" font-family="'Liberation Sans', Arial, Helvetica, sans-serif" fill="#000" stroke="#000" stroke-width="0.28">0</text>
<text transform="translate(226 523.58) rotate(-90) scale(1 1.15)" font-size="6.6" text-anchor="middle" font-family="'Liberation Sans', Arial, Helvetica, sans-serif" fill="#000" stroke="#000" stroke-width="0.28">10</text>
<text transform="translate(226 508.56) rotate(-90) scale(1 1.15)" font-size="6.6" text-anchor="middle" font-family="'Liberation Sans', Arial, Helvetica, sans-serif" fill="#000" stroke="#000" stroke-width="0.28">20</text>
<text transform="translate(226 493.54) rotate(-90) scale(1 1.15)" font-size="6.6" text-anchor="middle" font-family="'Liberation Sans', Arial, Helvetica, sans-serif" fill="#000" stroke="#000" stroke-width="0.28">30</text>
<text transform="translate(226 478.52) rotate(-90) scale(1 1.15)" font-size="6.6" text-anchor="middle" font-family="'Liberation Sans', Arial, Helvetica, sans-serif" fill="#000" stroke="#000" stroke-width="0.28">40</text>
<text transform="translate(226 463.5) rotate(-90) scale(1 1.15)" font-size="6.6" text-anchor="middle" font-family="'Liberation Sans', Arial, Helvetica, sans-serif" fill="#000" stroke="#000" stroke-width="0.28">50</text>
<text transform="translate(218.5 503.05) rotate(-90)" font-size="7.0" text-anchor="middle" font-family="'Liberation Sans', Arial, Helvetica, sans-serif" fill="#000" stroke="#000" stroke-width="0.28">Counts</text>
<text x="234.5" y="550.8" font-size="6.6" text-anchor="end" font-family="'Liberation Sans', Arial, Helvetica, sans-serif" fill="#000" stroke="#000" stroke-width="0.28">10</text>
<text x="234.8" y="546.7" font-size="6.2" font-family="'Liberation Sans', Arial, Helvetica, sans-serif" fill="#000" stroke="#000" stroke-width="0.28">0</text>
<text x="253.47" y="550.8" font-size="6.6" text-anchor="end" font-family="'Liberation Sans', Arial, Helvetica, sans-serif" fill="#000" stroke="#000" stroke-width="0.28">10</text>
<text x="253.77" y="546.7" font-size="6.2" font-family="'Liberation Sans', Arial, Helvetica, sans-serif" fill="#000" stroke="#000" stroke-width="0.28">1</text>
<text x="272.45" y="550.8" font-size="6.6" text-anchor="end" font-family="'Liberation Sans', Arial, Helvetica, sans-serif" fill="#000" stroke="#000" stroke-width="0.28">10</text>
<text x="272.75" y="546.7" font-size="6.2" font-family="'Liberation Sans', Arial, Helvetica, sans-serif" fill="#000" stroke="#000" stroke-width="0.28">2</text>
<text x="291.42" y="550.8" font-size="6.6" text-anchor="end" font-family="'Liberation Sans', Arial, Helvetica, sans-serif" fill="#000" stroke="#000" stroke-width="0.28">10</text>
<text x="291.72" y="546.7" font-size="6.2" font-family="'Liberation Sans', Arial, Helvetica, sans-serif" fill="#000" stroke="#000" stroke-width="0.28">3</text>
<text x="310.4" y="550.8" font-size="6.6" text-anchor="end" font-family="'Liberation Sans', Arial, Helvetica, sans-serif" fill="#000" stroke="#000" stroke-width="0.28">10</text>
<text x="310.7" y="546.7" font-size="6.2" font-family="'Liberation Sans', Arial, Helvetica, sans-serif" fill="#000" stroke="#000" stroke-width="0.28">4</text>
<text x="267.1" y="559.1" font-size="6.8" text-anchor="middle" font-family="'Liberation Sans', Arial, Helvetica, sans-serif" fill="#000" stroke="#000" stroke-width="0.28">FL2-Height</text>
<clipPath id="c42"><rect x="335.2" y="464.2" width="75" height="74.7"/></clipPath>
<g clip-path="url(#c42)">
<path d="M336.3 538.9 L336.3 538.4 L336.3 522.2 L336.5 522.2 L337.9 520.8 L339.3 519.4 L340.7 517.3 L342.1 516.6 L343.5 513.8 L344.9 509.6 L346.3 511.7 L347.4 512.4 L348.4 508.2 L349.1 504 L349.8 499.8 L350.5 504 L351.2 509.6 L352.2 511.7 L353.3 513.8 L354.3 518 L355.4 523.6 L356.5 527.8 L357.9 531.3 L359.6 534.1 L361.7 535.5 L363.8 534.8 L366.6 536.2 L369.4 536.9 L373 537.6 L375 538.4 L375 538.9 Z" fill="#959595" stroke="#000" stroke-width="0.9" stroke-linejoin="round"/>
<path d="M335.2 538.9 L335.2 499.8 L336.3 499.8 L336.5 499.8 L337.9 495.6 L339.3 491.4 L340.7 489.3 L342.1 487.2 L343.5 485.8 L344.9 478.8 L346.3 473.2 L347.4 468.3 L348.4 464.8 L349.5 467.6 L350.5 473.2 L351.5 477.4 L352.6 485.8 L353.3 495.6 L354 504 L354.7 511 L355.7 518 L356.8 525 L358.2 530.6 L360.3 533.4 L362.4 534.8 L365.2 533.4 L367.9 536.2 L370.8 535.6 L373.7 537 L379.4 537 L384.2 538.6 L410 538.6" fill="none" stroke="#000" stroke-width="0.9" stroke-linejoin="round"/>
<path d="M336.1 481 V499.8" stroke="#000" stroke-width="1.4"/>
</g>
<path d="M335.2 464.5 H410.5 V538.9" fill="none" stroke="#000" stroke-width="1.0"/>
<path d="M335.2 463.7 V538.9 H410.7" fill="none" stroke="#000" stroke-width="1.5"/>
<path d="M335.5 538.9 V541.9 M340.5 538.9 V540.9 M344.5 538.9 V540.9 M346.5 538.9 V540.9 M348.5 538.9 V540.9 M349.5 538.9 V540.9 M351.5 538.9 V540.9 M352.5 538.9 V540.9 M353.5 538.9 V540.9 M353.5 538.9 V541.9 M359.5 538.9 V540.9 M362.5 538.9 V540.9 M365.5 538.9 V540.9 M367.5 538.9 V540.9 M368.5 538.9 V540.9 M369.5 538.9 V540.9 M370.5 538.9 V540.9 M371.5 538.9 V540.9 M372.5 538.9 V541.9 M378.5 538.9 V540.9 M381.5 538.9 V540.9 M383.5 538.9 V540.9 M385.5 538.9 V540.9 M387.5 538.9 V540.9 M388.5 538.9 V540.9 M389.5 538.9 V540.9 M390.5 538.9 V540.9 M391.5 538.9 V541.9 M397.5 538.9 V540.9 M400.5 538.9 V540.9 M402.5 538.9 V540.9 M404.5 538.9 V540.9 M406.5 538.9 V540.9 M407.5 538.9 V540.9 M408.5 538.9 V540.9 M409.5 538.9 V540.9 M410.5 538.9 V541.9 M335.2 538.5 H333.2 M335.2 536.5 H333.2 M335.2 534.5 H333.2 M335.2 532.5 H333.2 M335.2 530.5 H333.2 M335.2 527.5 H333.2 M335.2 525.5 H333.2 M335.2 523.5 H333.2 M335.2 521.5 H333.2 M335.2 519.5 H333.2 M335.2 516.5 H333.2 M335.2 514.5 H333.2 M335.2 512.5 H333.2 M335.2 510.5 H333.2 M335.2 508.5 H333.2 M335.2 505.5 H333.2 M335.2 503.5 H333.2 M335.2 501.5 H333.2 M335.2 499.5 H333.2 M335.2 497.5 H333.2 M335.2 494.5 H333.2 M335.2 492.5 H333.2 M335.2 490.5 H333.2 M335.2 488.5 H333.2 M335.2 486.5 H333.2 M335.2 483.5 H333.2 M335.2 481.5 H333.2 M335.2 479.5 H333.2 M335.2 477.5 H333.2 M335.2 475.5 H333.2 M335.2 472.5 H333.2 M335.2 470.5 H333.2 M335.2 468.5 H333.2 M335.2 466.5 H333.2 M335.2 538.5 H332 M335.2 523.5 H332 M335.2 509.5 H332 M335.2 494.5 H332 M335.2 479.5 H332 M335.2 464.5 H332" stroke="#000" stroke-width="1" fill="none"/>
<text transform="translate(328.6 538.5) rotate(-90) scale(1 1.15)" font-size="6.6" text-anchor="middle" font-family="'Liberation Sans', Arial, Helvetica, sans-serif" fill="#000" stroke="#000" stroke-width="0.28">0</text>
<text transform="translate(328.6 523.56) rotate(-90) scale(1 1.15)" font-size="6.6" text-anchor="middle" font-family="'Liberation Sans', Arial, Helvetica, sans-serif" fill="#000" stroke="#000" stroke-width="0.28">10</text>
<text transform="translate(328.6 508.62) rotate(-90) scale(1 1.15)" font-size="6.6" text-anchor="middle" font-family="'Liberation Sans', Arial, Helvetica, sans-serif" fill="#000" stroke="#000" stroke-width="0.28">20</text>
<text transform="translate(328.6 493.68) rotate(-90) scale(1 1.15)" font-size="6.6" text-anchor="middle" font-family="'Liberation Sans', Arial, Helvetica, sans-serif" fill="#000" stroke="#000" stroke-width="0.28">30</text>
<text transform="translate(328.6 478.74) rotate(-90) scale(1 1.15)" font-size="6.6" text-anchor="middle" font-family="'Liberation Sans', Arial, Helvetica, sans-serif" fill="#000" stroke="#000" stroke-width="0.28">40</text>
<text transform="translate(328.6 463.8) rotate(-90) scale(1 1.15)" font-size="6.6" text-anchor="middle" font-family="'Liberation Sans', Arial, Helvetica, sans-serif" fill="#000" stroke="#000" stroke-width="0.28">50</text>
<text transform="translate(321.1 503.15) rotate(-90)" font-size="7.0" text-anchor="middle" font-family="'Liberation Sans', Arial, Helvetica, sans-serif" fill="#000" stroke="#000" stroke-width="0.28">Counts</text>
<text x="337.1" y="550.7" font-size="6.6" text-anchor="end" font-family="'Liberation Sans', Arial, Helvetica, sans-serif" fill="#000" stroke="#000" stroke-width="0.28">10</text>
<text x="337.4" y="546.6" font-size="6.2" font-family="'Liberation Sans', Arial, Helvetica, sans-serif" fill="#000" stroke="#000" stroke-width="0.28">0</text>
<text x="355.85" y="550.7" font-size="6.6" text-anchor="end" font-family="'Liberation Sans', Arial, Helvetica, sans-serif" fill="#000" stroke="#000" stroke-width="0.28">10</text>
<text x="356.15" y="546.6" font-size="6.2" font-family="'Liberation Sans', Arial, Helvetica, sans-serif" fill="#000" stroke="#000" stroke-width="0.28">1</text>
<text x="374.6" y="550.7" font-size="6.6" text-anchor="end" font-family="'Liberation Sans', Arial, Helvetica, sans-serif" fill="#000" stroke="#000" stroke-width="0.28">10</text>
<text x="374.9" y="546.6" font-size="6.2" font-family="'Liberation Sans', Arial, Helvetica, sans-serif" fill="#000" stroke="#000" stroke-width="0.28">2</text>
<text x="393.35" y="550.7" font-size="6.6" text-anchor="end" font-family="'Liberation Sans', Arial, Helvetica, sans-serif" fill="#000" stroke="#000" stroke-width="0.28">10</text>
<text x="393.65" y="546.6" font-size="6.2" font-family="'Liberation Sans', Arial, Helvetica, sans-serif" fill="#000" stroke="#000" stroke-width="0.28">3</text>
<text x="412.1" y="550.7" font-size="6.6" text-anchor="end" font-family="'Liberation Sans', Arial, Helvetica, sans-serif" fill="#000" stroke="#000" stroke-width="0.28">10</text>
<text x="412.4" y="546.6" font-size="6.2" font-family="'Liberation Sans', Arial, Helvetica, sans-serif" fill="#000" stroke="#000" stroke-width="0.28">4</text>
<text x="370.35" y="559.1" font-size="6.8" text-anchor="middle" font-family="'Liberation Sans', Arial, Helvetica, sans-serif" fill="#000" stroke="#000" stroke-width="0.28">FL2-Height</text>
<clipPath id="c43"><rect x="439.2" y="464.1" width="74.1" height="74.6"/></clipPath>
<g clip-path="url(#c43)">
<path d="M440.3 538.7 L440.3 538.4 L440.5 537.6 L441.9 534.8 L443.3 532 L444.7 530.6 L446.1 529.2 L447.5 530.6 L448.9 528.5 L450.3 526.4 L451.7 523.6 L453.1 522.2 L454.5 520.1 L455.9 518 L457.3 515.2 L458.7 511 L460.1 508.9 L461.5 506.8 L462.9 505.4 L464.3 502.6 L465 504 L466.1 506.8 L467.2 510 L468 514.5 L469.4 517.5 L470.9 517.3 L471.8 521.5 L473.3 525.5 L474.5 525 L475.7 528.5 L477.1 531.2 L478.6 532.7 L480 534.1 L481.5 534.6 L482.9 535.1 L484.3 535.6 L485.8 537 L487.2 538 L487.5 538.4 L487.5 538.7 Z" fill="#959595" stroke="#000" stroke-width="0.9" stroke-linejoin="round"/>
<path d="M439.2 538.7 L439.2 501.2 L440.3 501.2 L440.5 501.2 L441.9 495.6 L443.3 491.4 L444.7 489.3 L446.1 486.5 L447.5 483 L448.9 477.4 L450.3 471.8 L451.7 466.2 L452.4 464.3 L453.5 467.6 L454.5 473.2 L455.5 478.8 L456.6 488.6 L457.7 501.2 L458.7 509.6 L459.7 518 L460.8 526.4 L462.2 533.4 L464.3 536.2 L467.1 536.9 L470.6 536.9 L480 538.4 L513 538.4" fill="none" stroke="#000" stroke-width="0.9" stroke-linejoin="round"/>
<path d="M440.1 483 V501.2" stroke="#000" stroke-width="1.4"/>
</g>
<path d="M439.2 464.5 H513.5 V538.7" fill="none" stroke="#000" stroke-width="1.0"/>
<path d="M439.2 463.6 V538.7 H513.8" fill="none" stroke="#000" stroke-width="1.5"/>
<path d="M439.5 538.7 V541.7 M444.5 538.7 V540.7 M448.5 538.7 V540.7 M450.5 538.7 V540.7 M452.5 538.7 V540.7 M453.5 538.7 V540.7 M454.5 538.7 V540.7 M455.5 538.7 V540.7 M456.5 538.7 V540.7 M457.5 538.7 V541.7 M463.5 538.7 V540.7 M466.5 538.7 V540.7 M468.5 538.7 V540.7 M470.5 538.7 V540.7 M472.5 538.7 V540.7 M473.5 538.7 V540.7 M474.5 538.7 V540.7 M475.5 538.7 V540.7 M476.5 538.7 V541.7 M481.5 538.7 V540.7 M485.5 538.7 V540.7 M487.5 538.7 V540.7 M489.5 538.7 V540.7 M490.5 538.7 V540.7 M491.5 538.7 V540.7 M492.5 538.7 V540.7 M493.5 538.7 V540.7 M494.5 538.7 V541.7 M500.5 538.7 V540.7 M503.5 538.7 V540.7 M505.5 538.7 V540.7 M507.5 538.7 V540.7 M509.5 538.7 V540.7 M510.5 538.7 V540.7 M511.5 538.7 V540.7 M512.5 538.7 V540.7 M513.5 538.7 V541.7 M439.2 538.5 H437.2 M439.2 536.5 H437.2 M439.2 534.5 H437.2 M439.2 532.5 H437.2 M439.2 529.5 H437.2 M439.2 527.5 H437.2 M439.2 525.5 H437.2 M439.2 523.5 H437.2 M439.2 521.5 H437.2 M439.2 518.5 H437.2 M439.2 516.5 H437.2 M439.2 514.5 H437.2 M439.2 512.5 H437.2 M439.2 510.5 H437.2 M439.2 507.5 H437.2 M439.2 505.5 H437.2 M439.2 503.5 H437.2 M439.2 501.5 H437.2 M439.2 499.5 H437.2 M439.2 496.5 H437.2 M439.2 494.5 H437.2 M439.2 492.5 H437.2 M439.2 490.5 H437.2 M439.2 488.5 H437.2 M439.2 485.5 H437.2 M439.2 483.5 H437.2 M439.2 481.5 H437.2 M439.2 479.5 H437.2 M439.2 477.5 H437.2 M439.2 474.5 H437.2 M439.2 472.5 H437.2 M439.2 470.5 H437.2 M439.2 468.5 H437.2 M439.2 466.5 H437.2 M439.2 538.5 H436 M439.2 523.5 H436 M439.2 508.5 H436 M439.2 493.5 H436 M439.2 479.5 H436 M439.2 464.5 H436" stroke="#000" stroke-width="1" fill="none"/>
<text transform="translate(432.6 538.3) rotate(-90) scale(1 1.15)" font-size="6.6" text-anchor="middle" font-family="'Liberation Sans', Arial, Helvetica, sans-serif" fill="#000" stroke="#000" stroke-width="0.28">0</text>
<text transform="translate(432.6 523.38) rotate(-90) scale(1 1.15)" font-size="6.6" text-anchor="middle" font-family="'Liberation Sans', Arial, Helvetica, sans-serif" fill="#000" stroke="#000" stroke-width="0.28">10</text>
<text transform="translate(432.6 508.46) rotate(-90) scale(1 1.15)" font-size="6.6" text-anchor="middle" font-family="'Liberation Sans', Arial, Helvetica, sans-serif" fill="#000" stroke="#000" stroke-width="0.28">20</text>
<text transform="translate(432.6 493.54) rotate(-90) scale(1 1.15)" font-size="6.6" text-anchor="middle" font-family="'Liberation Sans', Arial, Helvetica, sans-serif" fill="#000" stroke="#000" stroke-width="0.28">30</text>
<text transform="translate(432.6 478.62) rotate(-90) scale(1 1.15)" font-size="6.6" text-anchor="middle" font-family="'Liberation Sans', Arial, Helvetica, sans-serif" fill="#000" stroke="#000" stroke-width="0.28">40</text>
<text transform="translate(432.6 463.7) rotate(-90) scale(1 1.15)" font-size="6.6" text-anchor="middle" font-family="'Liberation Sans', Arial, Helvetica, sans-serif" fill="#000" stroke="#000" stroke-width="0.28">50</text>
<text transform="translate(425.1 503) rotate(-90)" font-size="7.0" text-anchor="middle" font-family="'Liberation Sans', Arial, Helvetica, sans-serif" fill="#000" stroke="#000" stroke-width="0.28">Counts</text>
<text x="441.1" y="550.5" font-size="6.6" text-anchor="end" font-family="'Liberation Sans', Arial, Helvetica, sans-serif" fill="#000" stroke="#000" stroke-width="0.28">10</text>
<text x="441.4" y="546.4" font-size="6.2" font-family="'Liberation Sans', Arial, Helvetica, sans-serif" fill="#000" stroke="#000" stroke-width="0.28">0</text>
<text x="459.62" y="550.5" font-size="6.6" text-anchor="end" font-family="'Liberation Sans', Arial, Helvetica, sans-serif" fill="#000" stroke="#000" stroke-width="0.28">10</text>
<text x="459.92" y="546.4" font-size="6.2" font-family="'Liberation Sans', Arial, Helvetica, sans-serif" fill="#000" stroke="#000" stroke-width="0.28">1</text>
<text x="478.15" y="550.5" font-size="6.6" text-anchor="end" font-family="'Liberation Sans', Arial, Helvetica, sans-serif" fill="#000" stroke="#000" stroke-width="0.28">10</text>
<text x="478.45" y="546.4" font-size="6.2" font-family="'Liberation Sans', Arial, Helvetica, sans-serif" fill="#000" stroke="#000" stroke-width="0.28">2</text>
<text x="496.67" y="550.5" font-size="6.6" text-anchor="end" font-family="'Liberation Sans', Arial, Helvetica, sans-serif" fill="#000" stroke="#000" stroke-width="0.28">10</text>
<text x="496.97" y="546.4" font-size="6.2" font-family="'Liberation Sans', Arial, Helvetica, sans-serif" fill="#000" stroke="#000" stroke-width="0.28">3</text>
<text x="515.2" y="550.5" font-size="6.6" text-anchor="end" font-family="'Liberation Sans', Arial, Helvetica, sans-serif" fill="#000" stroke="#000" stroke-width="0.28">10</text>
<text x="515.5" y="546.4" font-size="6.2" font-family="'Liberation Sans', Arial, Helvetica, sans-serif" fill="#000" stroke="#000" stroke-width="0.28">4</text>
<text x="473.9" y="559.1" font-size="6.8" text-anchor="middle" font-family="'Liberation Sans', Arial, Helvetica, sans-serif" fill="#000" stroke="#000" stroke-width="0.28">FL2-Height</text>
</svg>
</body></html>
